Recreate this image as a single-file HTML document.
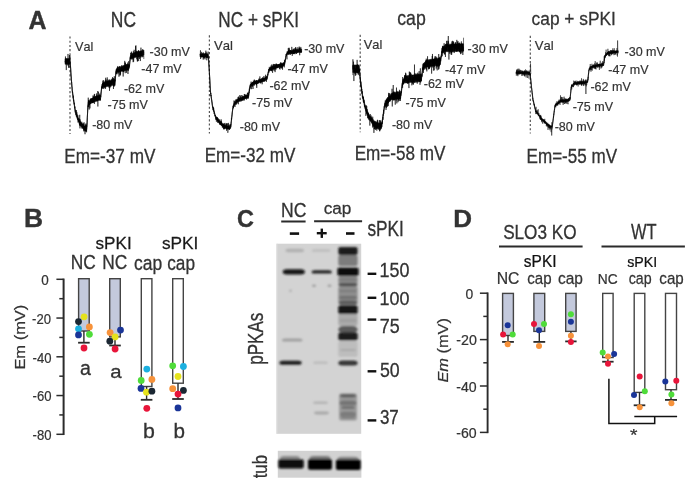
<!DOCTYPE html>
<html><head><meta charset="utf-8"><style>
html,body{margin:0;padding:0;background:#fff;}
body{width:700px;height:489px;overflow:hidden;}
svg{display:block;font-family:"Liberation Sans",sans-serif;font-kerning:none;will-change:transform;}
</style></head><body>
<svg width="700" height="489" viewBox="0 0 700 489">
<defs>
<filter id="bl" x="-5%" y="-5%" width="110%" height="110%"><feGaussianBlur stdDeviation="0.4"/></filter>
<filter id="bb" x="-20%" y="-20%" width="140%" height="140%"><feGaussianBlur stdDeviation="1.3"/></filter>
</defs>
<rect width="700" height="489" fill="#fff"/>
<text font-size="200" fill="#333" stroke="#333" stroke-width="3.0" transform="matrix(0.1246 0 0 0.1312 28.477 29.200)"><tspan font-weight="bold">A</tspan></text>
<text font-size="200" fill="#333" stroke="#333" stroke-width="3.0" transform="matrix(0.0871 0 0 0.1063 110.806 26.787)"><tspan>NC</tspan></text>
<text font-size="200" fill="#333" stroke="#333" stroke-width="3.0" transform="matrix(0.0859 0 0 0.1092 218.326 27.382)"><tspan>NC + sPKI</tspan></text>
<text font-size="200" fill="#333" stroke="#333" stroke-width="3.0" transform="matrix(0.0885 0 0 0.1033 397.203 25.260)"><tspan>cap</tspan></text>
<text font-size="200" fill="#333" stroke="#333" stroke-width="3.0" transform="matrix(0.0867 0 0 0.0917 531.620 24.750)"><tspan>cap + sPKI</tspan></text>
<text font-size="200" fill="#333" stroke="#333" stroke-width="3.0" transform="matrix(0.0859 0 0 0.1014 64.325 163.097)"><tspan>Em=-37 mV</tspan></text>
<text font-size="200" fill="#333" stroke="#333" stroke-width="3.0" transform="matrix(0.0856 0 0 0.0986 204.630 161.903)"><tspan>Em=-32 mV</tspan></text>
<text font-size="200" fill="#333" stroke="#333" stroke-width="3.0" transform="matrix(0.0856 0 0 0.1007 354.630 160.499)"><tspan>Em=-58 mV</tspan></text>
<text font-size="200" fill="#333" stroke="#333" stroke-width="3.0" transform="matrix(0.0854 0 0 0.1043 526.533 162.691)"><tspan>Em=-55 mV</tspan></text>
<text font-size="200" fill="#333" stroke="#333" stroke-width="3.0" transform="matrix(0.0635 0 0 0.0646 75.037 51.371)"><tspan>Val</tspan></text>
<text font-size="200" fill="#333" stroke="#333" stroke-width="3.0" transform="matrix(0.0654 0 0 0.0633 213.935 50.173)"><tspan>Val</tspan></text>
<text font-size="200" fill="#333" stroke="#333" stroke-width="3.0" transform="matrix(0.0642 0 0 0.0612 363.736 48.878)"><tspan>Val</tspan></text>
<text font-size="200" fill="#333" stroke="#333" stroke-width="3.0" transform="matrix(0.0654 0 0 0.0633 534.735 50.173)"><tspan>Val</tspan></text>
<line x1="70.0" y1="36.5" x2="70.0" y2="134.0" stroke="#555" stroke-width="1.2" stroke-dasharray="2.1 2.1"/>
<line x1="209.4" y1="35.3" x2="209.4" y2="133.4" stroke="#555" stroke-width="1.2" stroke-dasharray="2.1 2.1"/>
<line x1="360.2" y1="34.8" x2="360.2" y2="132.3" stroke="#555" stroke-width="1.2" stroke-dasharray="2.1 2.1"/>
<line x1="530.3" y1="35.8" x2="530.3" y2="133.4" stroke="#555" stroke-width="1.2" stroke-dasharray="2.1 2.1"/>
<text font-size="200" fill="#333" stroke="#333" stroke-width="3.0" transform="matrix(0.0626 0 0 0.0627 149.536 55.775)"><tspan>-30 mV</tspan></text>
<text font-size="200" fill="#333" stroke="#333" stroke-width="3.0" transform="matrix(0.0626 0 0 0.0616 141.336 73.400)"><tspan>-47 mV</tspan></text>
<text font-size="200" fill="#333" stroke="#333" stroke-width="3.0" transform="matrix(0.0626 0 0 0.0641 123.936 92.872)"><tspan>-62 mV</tspan></text>
<text font-size="200" fill="#333" stroke="#333" stroke-width="3.0" transform="matrix(0.0626 0 0 0.0629 107.536 109.474)"><tspan>-75 mV</tspan></text>
<text font-size="200" fill="#333" stroke="#333" stroke-width="3.0" transform="matrix(0.0626 0 0 0.0641 92.136 128.872)"><tspan>-80 mV</tspan></text>
<text font-size="200" fill="#333" stroke="#333" stroke-width="3.0" transform="matrix(0.0626 0 0 0.0613 304.136 52.777)"><tspan>-30 mV</tspan></text>
<text font-size="200" fill="#333" stroke="#333" stroke-width="3.0" transform="matrix(0.0626 0 0 0.0638 287.436 73.400)"><tspan>-47 mV</tspan></text>
<text font-size="200" fill="#333" stroke="#333" stroke-width="3.0" transform="matrix(0.0626 0 0 0.0620 269.436 89.676)"><tspan>-62 mV</tspan></text>
<text font-size="200" fill="#333" stroke="#333" stroke-width="3.0" transform="matrix(0.0626 0 0 0.0629 252.036 106.674)"><tspan>-75 mV</tspan></text>
<text font-size="200" fill="#333" stroke="#333" stroke-width="3.0" transform="matrix(0.0626 0 0 0.0613 239.736 131.077)"><tspan>-80 mV</tspan></text>
<text font-size="200" fill="#333" stroke="#333" stroke-width="3.0" transform="matrix(0.0626 0 0 0.0620 467.536 52.676)"><tspan>-30 mV</tspan></text>
<text font-size="200" fill="#333" stroke="#333" stroke-width="3.0" transform="matrix(0.0626 0 0 0.0638 445.036 74.000)"><tspan>-47 mV</tspan></text>
<text font-size="200" fill="#333" stroke="#333" stroke-width="3.0" transform="matrix(0.0626 0 0 0.0613 423.736 87.977)"><tspan>-62 mV</tspan></text>
<text font-size="200" fill="#333" stroke="#333" stroke-width="3.0" transform="matrix(0.0626 0 0 0.0621 405.436 106.876)"><tspan>-75 mV</tspan></text>
<text font-size="200" fill="#333" stroke="#333" stroke-width="3.0" transform="matrix(0.0626 0 0 0.0613 391.936 129.377)"><tspan>-80 mV</tspan></text>
<text font-size="200" fill="#333" stroke="#333" stroke-width="3.0" transform="matrix(0.0626 0 0 0.0613 624.536 55.577)"><tspan>-30 mV</tspan></text>
<text font-size="200" fill="#333" stroke="#333" stroke-width="3.0" transform="matrix(0.0626 0 0 0.0638 608.236 74.000)"><tspan>-47 mV</tspan></text>
<text font-size="200" fill="#333" stroke="#333" stroke-width="3.0" transform="matrix(0.0626 0 0 0.0620 590.436 91.076)"><tspan>-62 mV</tspan></text>
<text font-size="200" fill="#333" stroke="#333" stroke-width="3.0" transform="matrix(0.0626 0 0 0.0621 572.636 110.976)"><tspan>-75 mV</tspan></text>
<text font-size="200" fill="#333" stroke="#333" stroke-width="3.0" transform="matrix(0.0626 0 0 0.0613 554.636 131.377)"><tspan>-80 mV</tspan></text>
<path d="M65.10,58.75 65.35,58.75 65.60,58.75 65.85,58.75 66.10,58.75 66.35,58.75 66.60,58.75 66.85,58.75 67.10,58.75 67.35,58.75 67.60,58.75 67.85,58.75 68.10,58.75 68.35,58.75 68.60,58.75 68.85,58.75 69.10,58.75 69.35,58.75 69.60,58.75 69.85,58.75 70.10,60.59 70.35,63.60 70.60,67.90 70.85,72.10 71.10,75.81 71.35,78.84 71.60,81.92 71.85,85.00 72.10,88.06 72.35,90.75 72.60,92.33 72.85,94.04 73.10,95.76 73.35,97.48 73.60,99.19 73.85,100.91 74.10,102.63 74.35,104.34 74.60,106.06 74.85,107.78 75.10,109.46 75.35,110.74 75.60,111.11 75.85,111.79 76.10,112.47 76.35,113.15 76.60,113.84 76.85,114.52 77.10,115.20 77.35,115.89 77.60,116.57 77.85,117.25 78.10,117.93 78.35,118.62 78.60,119.30 78.85,119.98 79.10,120.67 79.35,121.16 79.60,121.20 79.85,121.40 80.10,121.68 80.35,121.96 80.60,122.24 80.85,122.52 81.10,122.80 81.35,123.08 81.60,123.36 81.85,123.64 82.10,123.92 82.35,124.20 82.60,124.48 82.85,124.76 83.10,125.03 83.35,125.31 83.60,125.59 83.85,125.87 84.10,126.15 84.35,126.31 84.60,126.08 84.85,125.75 85.10,125.75 85.35,125.75 85.60,125.75 85.85,125.75 86.10,125.75 86.35,125.75 86.60,126.99 86.85,127.01 87.10,122.08 87.35,116.97 87.60,111.87 87.85,106.70 88.10,103.15 88.35,101.73 88.60,101.42 88.85,101.10 89.10,100.79 89.35,100.48 89.60,100.17 89.85,99.77 90.10,99.29 90.35,99.00 90.60,98.89 90.85,98.79 91.10,98.68 91.35,98.58 91.60,98.48 91.85,98.37 92.10,98.27 92.35,98.16 92.60,98.06 92.85,97.96 93.10,97.85 93.35,97.75 93.60,97.64 93.85,97.54 94.10,97.43 94.35,97.33 94.60,97.22 94.85,97.11 95.10,97.00 95.35,96.90 95.60,96.81 95.85,96.71 96.10,96.62 96.35,96.52 96.60,96.43 96.85,96.33 97.10,96.24 97.35,96.15 97.60,96.05 97.85,95.96 98.10,95.86 98.35,95.77 98.60,95.67 98.85,95.58 99.10,95.48 99.35,95.39 99.60,95.29 99.85,95.20 100.10,95.10 100.35,95.01 100.60,96.34 100.85,94.45 101.10,92.20 101.35,89.95 101.60,87.66 101.85,85.43 102.10,84.29 102.35,83.98 102.60,83.67 102.85,83.25 103.10,82.71 103.35,82.40 103.60,82.34 103.85,82.29 104.10,82.23 104.35,82.17 104.60,82.12 104.85,82.06 105.10,82.00 105.35,81.95 105.60,81.89 105.85,81.84 106.10,81.78 106.35,81.72 106.60,81.67 106.85,81.61 107.10,81.55 107.35,81.50 107.60,81.44 107.85,81.39 108.10,81.33 108.35,81.27 108.60,81.22 108.85,81.16 109.10,81.10 109.35,81.05 109.60,80.99 109.85,80.94 110.10,80.88 110.35,80.82 110.60,80.77 110.85,80.71 111.10,80.65 111.35,80.60 111.60,80.54 111.85,80.49 112.10,80.43 112.35,80.37 112.60,80.32 112.85,80.26 113.10,80.20 113.35,80.15 113.60,80.09 113.85,80.04 114.10,79.98 114.35,79.92 114.60,79.87 114.85,80.91 115.10,80.54 115.35,78.00 115.60,75.30 115.85,72.52 116.10,70.34 116.35,69.23 116.60,68.92 116.85,68.60 117.10,68.13 117.35,67.64 117.60,67.41 117.85,67.34 118.10,67.28 118.35,67.21 118.60,67.14 118.85,67.08 119.10,67.01 119.35,66.94 119.60,66.88 119.85,66.81 120.10,66.75 120.35,66.68 120.60,66.61 120.85,66.55 121.10,66.48 121.35,66.42 121.60,66.35 121.85,66.28 122.10,66.22 122.35,66.15 122.60,66.08 122.85,66.02 123.10,65.95 123.35,65.89 123.60,65.82 123.85,65.75 124.10,65.69 124.35,65.62 124.60,65.56 124.85,65.49 125.10,65.42 125.35,65.36 125.60,65.29 125.85,65.23 126.10,65.16 126.35,65.09 126.60,65.03 126.85,64.96 127.10,64.89 127.35,64.83 127.60,64.76 127.85,64.70 128.10,64.63 128.35,64.56 128.60,64.50 128.85,64.43 129.10,64.98 129.35,65.50 129.60,63.43 129.85,61.10 130.10,58.73 130.35,56.45 130.60,55.29 130.85,54.98 131.10,54.67 131.35,54.25 131.60,53.73 131.85,53.43 132.10,53.36 132.35,53.29 132.60,53.22 132.85,53.15 133.10,53.08 133.35,53.01 133.60,52.94 133.85,52.87 134.10,52.80 134.35,52.72 134.60,52.65 134.85,52.58 135.10,52.51 135.35,52.44 135.60,52.37 135.85,52.30 136.10,52.23 136.35,52.16 136.60,52.09 136.85,52.02 137.10,51.95 137.35,51.88 137.60,51.81 137.85,51.74 138.10,51.67 138.35,51.60 138.60,51.52 138.85,51.45 139.10,51.38 139.35,51.31 139.60,51.24 139.85,51.17 140.10,51.10 140.35,51.03 140.60,50.96 140.85,50.89 141.10,50.82 141.35,50.75 141.60,50.68 141.85,50.61 142.10,50.54 142.35,50.47 142.60,50.40 142.85,50.33 143.10,50.25 143.35,50.18 143.60,50.11 143.85,50.04 143.85,54.99 143.60,55.06 143.35,55.13 143.10,55.20 142.85,55.27 142.60,55.34 142.35,55.41 142.10,55.48 141.85,55.55 141.60,55.62 141.35,55.69 141.10,55.76 140.85,55.83 140.60,55.90 140.35,55.97 140.10,56.04 139.85,56.11 139.60,56.18 139.35,56.26 139.10,56.33 138.85,56.40 138.60,56.47 138.35,56.54 138.10,56.61 137.85,56.68 137.60,56.75 137.35,56.82 137.10,56.89 136.85,56.96 136.60,57.03 136.35,57.10 136.10,57.17 135.85,57.24 135.60,57.31 135.35,57.38 135.10,57.45 134.85,57.53 134.60,57.60 134.35,57.67 134.10,57.74 133.85,57.81 133.60,57.88 133.35,57.95 133.10,58.02 132.85,58.09 132.60,58.16 132.35,58.23 132.10,58.30 131.85,58.37 131.60,58.21 131.35,58.12 131.10,58.33 130.85,58.65 130.60,58.96 130.35,58.42 130.10,59.99 129.85,62.27 129.60,64.59 129.35,67.17 129.10,68.73 128.85,69.41 128.60,69.47 128.35,69.54 128.10,69.60 127.85,69.67 127.60,69.74 127.35,69.80 127.10,69.87 126.85,69.93 126.60,70.00 126.35,70.07 126.10,70.13 125.85,70.20 125.60,70.27 125.35,70.33 125.10,70.40 124.85,70.46 124.60,70.53 124.35,70.60 124.10,70.66 123.85,70.73 123.60,70.79 123.35,70.86 123.10,70.93 122.85,70.99 122.60,71.06 122.35,71.12 122.10,71.19 121.85,71.26 121.60,71.32 121.35,71.39 121.10,71.46 120.85,71.52 120.60,71.59 120.35,71.65 120.10,71.72 119.85,71.79 119.60,71.85 119.35,71.92 119.10,71.98 118.85,72.05 118.60,72.12 118.35,72.18 118.10,72.25 117.85,72.32 117.60,72.38 117.35,72.28 117.10,72.12 116.85,72.27 116.60,72.58 116.35,72.90 116.10,72.41 115.85,73.72 115.60,76.34 115.35,79.04 115.10,81.90 114.85,83.75 114.60,84.91 114.35,84.97 114.10,85.03 113.85,85.08 113.60,85.14 113.35,85.19 113.10,85.25 112.85,85.31 112.60,85.36 112.35,85.42 112.10,85.48 111.85,85.53 111.60,85.59 111.35,85.64 111.10,85.70 110.85,85.76 110.60,85.81 110.35,85.87 110.10,85.93 109.85,85.98 109.60,86.04 109.35,86.09 109.10,86.15 108.85,86.21 108.60,86.26 108.35,86.32 108.10,86.38 107.85,86.43 107.60,86.49 107.35,86.54 107.10,86.60 106.85,86.66 106.60,86.71 106.35,86.77 106.10,86.83 105.85,86.88 105.60,86.94 105.35,86.99 105.10,87.05 104.85,87.11 104.60,87.16 104.35,87.22 104.10,87.28 103.85,87.33 103.60,87.39 103.35,87.44 103.10,87.24 102.85,87.13 102.60,87.33 102.35,87.65 102.10,87.96 101.85,87.44 101.60,88.94 101.35,91.15 101.10,93.40 100.85,95.65 100.60,98.26 100.35,99.78 100.10,99.88 99.85,99.97 99.60,100.07 99.35,100.16 99.10,100.26 98.85,100.35 98.60,100.45 98.35,100.54 98.10,100.64 97.85,100.73 97.60,100.83 97.35,100.92 97.10,101.02 96.85,101.11 96.60,101.20 96.35,101.30 96.10,101.39 95.85,101.49 95.60,101.58 95.35,101.68 95.10,101.77 94.85,101.86 94.60,101.94 94.35,102.04 94.10,102.15 93.85,102.25 93.60,102.36 93.35,102.46 93.10,102.57 92.85,102.67 92.60,102.77 92.35,102.88 92.10,102.98 91.85,103.09 91.60,103.19 91.35,103.29 91.10,103.40 90.85,103.50 90.60,103.61 90.35,103.71 90.10,103.63 89.85,103.61 89.60,103.83 89.35,104.15 89.10,104.46 88.85,104.77 88.60,105.08 88.35,105.40 88.10,104.60 87.85,107.42 87.60,112.47 87.35,117.57 87.10,122.68 86.85,127.95 86.60,130.01 86.35,131.25 86.10,131.25 85.85,131.25 85.60,131.25 85.35,131.25 85.10,131.25 84.85,131.25 84.60,130.92 84.35,130.36 84.10,129.95 83.85,129.67 83.60,129.39 83.35,129.12 83.10,128.84 82.85,128.56 82.60,128.28 82.35,128.00 82.10,127.72 81.85,127.44 81.60,127.16 81.35,126.88 81.10,126.60 80.85,126.32 80.60,126.04 80.35,125.76 80.10,125.48 79.85,125.20 79.60,124.84 79.35,124.16 79.10,123.29 78.85,122.61 78.60,121.93 78.35,121.25 78.10,120.56 77.85,119.88 77.60,119.20 77.35,118.51 77.10,117.83 76.85,117.15 76.60,116.47 76.35,115.78 76.10,115.10 75.85,114.42 75.60,113.73 75.35,112.74 75.10,110.99 74.85,109.24 74.60,107.53 74.35,105.81 74.10,104.09 73.85,102.38 73.60,100.66 73.35,98.94 73.10,97.23 72.85,95.51 72.60,93.79 72.35,91.94 72.10,89.02 71.85,85.93 71.60,82.85 71.35,79.77 71.10,76.66 70.85,72.84 70.60,68.60 70.35,64.46 70.10,62.41 69.85,64.25 69.60,64.25 69.35,64.25 69.10,64.25 68.85,64.25 68.60,64.25 68.35,64.25 68.10,64.25 67.85,64.25 67.60,64.25 67.35,64.25 67.10,64.25 66.85,64.25 66.60,64.25 66.35,64.25 66.10,64.25 65.85,64.25 65.60,64.25 65.35,64.25 65.10,64.25 Z" fill="#111" stroke="#111" stroke-width="0.6"/><path d="M65.10,60.94 65.22,62.39 65.34,61.36 65.46,56.48 65.58,63.39 65.70,61.99 65.82,58.52 65.94,62.00 66.06,61.36 66.18,60.55 66.30,70.07 66.42,62.15 66.54,58.68 66.66,60.57 66.78,59.58 66.90,63.48 67.02,61.55 67.14,60.25 67.26,58.49 67.38,60.14 67.50,61.01 67.62,61.02 67.74,65.42 67.86,64.54 67.98,53.94 68.10,55.56 68.22,60.38 68.34,60.01 68.46,61.82 68.58,62.28 68.70,67.75 68.82,58.42 68.94,60.32 69.06,67.52 69.18,62.56 69.30,62.42 69.42,58.41 69.54,55.06 69.66,59.77 69.78,58.91 69.90,55.43 70.02,57.39 70.14,59.94 70.26,60.71 70.38,63.53 70.50,65.85 70.62,67.72 70.74,69.47 70.86,72.55 70.98,74.96 71.10,76.01 71.22,76.42 71.34,79.38 71.46,79.94 71.58,82.93 71.70,82.57 71.82,86.06 71.94,86.80 72.06,87.10 72.18,89.76 72.30,91.45 72.42,92.69 72.54,91.51 72.66,91.87 72.78,94.60 72.90,94.66 73.02,96.59 73.14,98.28 73.26,95.73 73.38,99.16 73.50,101.15 73.62,99.79 73.74,99.73 73.86,102.66 73.98,102.73 74.10,104.35 74.22,103.52 74.34,102.75 74.46,105.54 74.58,105.67 74.70,108.20 74.82,108.13 74.94,106.54 75.06,107.96 75.18,111.61 75.30,112.36 75.42,109.87 75.54,111.55 75.66,113.18 75.78,113.51 75.90,114.86 76.02,113.88 76.14,113.62 76.26,113.45 76.38,116.69 76.50,110.08 76.62,114.57 76.74,114.99 76.86,112.31 76.98,116.34 77.10,114.56 77.22,118.33 77.34,116.59 77.46,118.63 77.58,119.87 77.70,118.28 77.82,116.23 77.94,115.36 78.06,122.54 78.18,118.76 78.30,117.85 78.42,119.69 78.54,119.34 78.66,121.43 78.78,120.17 78.90,120.24 79.02,118.89 79.14,121.87 79.26,118.78 79.38,122.91 79.50,125.45 79.62,117.55 79.74,114.80 79.86,123.09 79.98,128.39 80.10,119.88 80.22,119.50 80.34,124.30 80.46,121.28 80.58,122.59 80.70,123.92 80.82,126.19 80.94,123.42 81.06,124.98 81.18,124.07 81.30,122.63 81.42,124.14 81.54,122.97 81.66,124.79 81.78,121.73 81.90,121.80 82.02,128.70 82.14,125.08 82.26,125.00 82.38,126.39 82.50,124.16 82.62,124.66 82.74,126.68 82.86,126.71 82.98,123.00 83.10,128.20 83.22,124.83 83.34,123.62 83.46,124.66 83.58,126.31 83.70,131.32 83.82,124.28 83.94,127.89 84.06,122.30 84.18,127.65 84.30,129.92 84.42,127.36 84.54,126.18 84.66,128.93 84.78,130.32 84.90,130.22 85.02,134.24 85.14,128.86 85.26,126.57 85.38,128.20 85.50,128.77 85.62,128.96 85.74,124.41 85.86,128.99 85.98,123.48 86.10,130.76 86.22,126.32 86.34,124.91 86.46,130.12 86.58,132.28 86.70,129.63 86.82,128.33 86.94,125.19 87.06,125.23 87.18,121.36 87.30,117.38 87.42,115.24 87.54,113.40 87.66,109.93 87.78,108.74 87.90,105.82 88.02,105.75 88.14,106.66 88.26,97.66 88.38,104.51 88.50,100.04 88.62,107.15 88.74,104.43 88.86,105.44 88.98,101.40 89.10,109.01 89.22,109.53 89.34,101.45 89.46,104.98 89.58,101.99 89.70,103.84 89.82,100.82 89.94,108.37 90.06,102.02 90.18,101.73 90.30,104.06 90.42,99.95 90.54,101.11 90.66,100.05 90.78,101.17 90.90,98.36 91.02,99.95 91.14,100.65 91.26,99.97 91.38,100.98 91.50,99.56 91.62,102.53 91.74,100.04 91.86,100.92 91.98,99.45 92.10,100.23 92.22,98.19 92.34,102.95 92.46,98.35 92.58,98.14 92.70,102.42 92.82,102.83 92.94,100.59 93.06,95.46 93.18,102.45 93.30,101.76 93.42,96.37 93.54,102.29 93.66,97.73 93.78,96.85 93.90,99.97 94.02,98.67 94.14,99.79 94.26,94.39 94.38,104.03 94.50,96.93 94.62,93.90 94.74,100.30 94.86,97.92 94.98,99.36 95.10,97.65 95.22,98.83 95.34,99.19 95.46,96.54 95.58,100.02 95.70,96.75 95.82,96.01 95.94,98.57 96.06,100.15 96.18,97.93 96.30,95.80 96.42,100.66 96.54,93.46 96.66,95.85 96.78,99.14 96.90,95.01 97.02,98.65 97.14,98.69 97.26,101.25 97.38,96.21 97.50,96.53 97.62,98.82 97.74,91.02 97.86,106.51 97.98,96.20 98.10,95.75 98.22,99.96 98.34,97.39 98.46,91.81 98.58,98.53 98.70,99.47 98.82,95.92 98.94,96.49 99.06,98.92 99.18,95.32 99.30,99.25 99.42,98.39 99.54,95.68 99.66,93.61 99.78,96.58 99.90,95.26 100.02,100.51 100.14,98.06 100.26,100.56 100.38,98.45 100.50,98.64 100.62,96.16 100.74,96.90 100.86,97.13 100.98,93.39 101.10,92.06 101.22,91.59 101.34,90.20 101.46,88.74 101.58,88.69 101.70,86.97 101.82,88.60 101.94,85.94 102.06,85.97 102.18,87.38 102.30,84.11 102.42,88.57 102.54,83.57 102.66,82.93 102.78,84.45 102.90,84.51 103.02,80.94 103.14,84.35 103.26,80.01 103.38,88.95 103.50,85.01 103.62,83.85 103.74,82.84 103.86,84.43 103.98,84.87 104.10,82.77 104.22,83.11 104.34,85.18 104.46,84.03 104.58,87.66 104.70,88.40 104.82,85.23 104.94,86.20 105.06,80.72 105.18,86.24 105.30,84.10 105.42,85.38 105.54,88.83 105.66,77.77 105.78,85.51 105.90,80.44 106.02,84.83 106.14,79.55 106.26,81.69 106.38,83.66 106.50,85.07 106.62,83.35 106.74,81.54 106.86,81.89 106.98,85.67 107.10,82.69 107.22,77.38 107.34,84.46 107.46,83.13 107.58,84.31 107.70,81.14 107.82,85.32 107.94,79.41 108.06,84.37 108.18,81.45 108.30,84.57 108.42,85.56 108.54,80.35 108.66,82.85 108.78,83.68 108.90,87.50 109.02,86.34 109.14,80.56 109.26,85.92 109.38,86.59 109.50,90.90 109.62,79.46 109.74,83.09 109.86,88.17 109.98,80.15 110.10,80.53 110.22,84.11 110.34,86.39 110.46,81.25 110.58,83.90 110.70,82.50 110.82,86.78 110.94,82.67 111.06,84.77 111.18,79.55 111.30,81.29 111.42,81.06 111.54,84.05 111.66,82.53 111.78,78.80 111.90,83.21 112.02,83.03 112.14,80.88 112.26,80.66 112.38,81.54 112.50,77.22 112.62,82.17 112.74,82.36 112.86,79.07 112.98,83.52 113.10,77.89 113.22,80.96 113.34,81.50 113.46,89.00 113.58,78.42 113.70,84.35 113.82,86.17 113.94,84.64 114.06,86.70 114.18,79.99 114.30,76.19 114.42,85.47 114.54,79.36 114.66,82.10 114.78,79.92 114.90,85.61 115.02,83.45 115.14,79.95 115.26,80.27 115.38,78.16 115.50,76.75 115.62,75.51 115.74,74.09 115.86,73.60 115.98,72.18 116.10,70.76 116.22,73.73 116.34,69.56 116.46,71.71 116.58,71.67 116.70,73.77 116.82,68.70 116.94,74.34 117.06,70.34 117.18,69.43 117.30,67.54 117.42,71.15 117.54,69.17 117.66,66.21 117.78,66.14 117.90,67.90 118.02,67.37 118.14,72.90 118.26,73.52 118.38,71.90 118.50,70.87 118.62,69.11 118.74,70.70 118.86,73.05 118.98,76.73 119.10,73.28 119.22,69.72 119.34,70.70 119.46,69.03 119.58,66.09 119.70,69.62 119.82,70.97 119.94,75.50 120.06,70.61 120.18,74.36 120.30,75.26 120.42,70.11 120.54,74.30 120.66,71.91 120.78,68.24 120.90,70.23 121.02,69.44 121.14,68.59 121.26,68.81 121.38,69.57 121.50,70.69 121.62,66.85 121.74,69.51 121.86,65.02 121.98,69.74 122.10,71.01 122.22,69.41 122.34,69.48 122.46,70.35 122.58,66.86 122.70,68.15 122.82,70.44 122.94,71.84 123.06,69.95 123.18,76.50 123.30,68.52 123.42,71.55 123.54,72.05 123.66,67.64 123.78,65.65 123.90,64.97 124.02,68.44 124.14,71.49 124.26,68.70 124.38,68.15 124.50,65.97 124.62,68.51 124.74,60.87 124.86,67.26 124.98,66.37 125.10,62.55 125.22,73.17 125.34,62.71 125.46,64.26 125.58,64.44 125.70,70.49 125.82,64.74 125.94,69.40 126.06,69.01 126.18,68.10 126.30,64.23 126.42,66.66 126.54,72.82 126.66,64.58 126.78,65.67 126.90,67.76 127.02,70.64 127.14,68.69 127.26,69.99 127.38,63.90 127.50,69.71 127.62,68.73 127.74,62.59 127.86,71.92 127.98,73.99 128.10,64.85 128.22,66.79 128.34,70.85 128.46,62.52 128.58,61.24 128.70,63.28 128.82,64.93 128.94,65.01 129.06,67.80 129.18,67.28 129.30,64.67 129.42,66.39 129.54,66.56 129.66,64.64 129.78,63.22 129.90,60.90 130.02,61.02 130.14,57.57 130.26,58.56 130.38,56.60 130.50,58.91 130.62,56.83 130.74,52.97 130.86,56.29 130.98,59.01 131.10,52.58 131.22,53.85 131.34,53.44 131.46,51.64 131.58,58.16 131.70,59.52 131.82,57.85 131.94,56.47 132.06,55.80 132.18,56.87 132.30,54.31 132.42,58.96 132.54,59.34 132.66,58.94 132.78,54.79 132.90,57.33 133.02,57.05 133.14,62.20 133.26,57.20 133.38,51.22 133.50,57.26 133.62,61.71 133.74,58.18 133.86,58.36 133.98,55.95 134.10,49.82 134.22,50.11 134.34,51.97 134.46,55.10 134.58,56.19 134.70,56.67 134.82,53.36 134.94,57.28 135.06,53.58 135.18,52.20 135.30,56.70 135.42,51.57 135.54,46.05 135.66,51.16 135.78,54.34 135.90,45.36 136.02,53.46 136.14,53.82 136.26,50.76 136.38,51.02 136.50,54.28 136.62,54.13 136.74,59.28 136.86,56.55 136.98,51.09 137.10,53.56 137.22,57.96 137.34,61.46 137.46,57.17 137.58,56.50 137.70,61.24 137.82,55.76 137.94,54.42 138.06,51.06 138.18,53.16 138.30,61.06 138.42,50.17 138.54,54.31 138.66,50.68 138.78,55.47 138.90,57.43 139.02,54.45 139.14,57.00 139.26,56.45 139.38,55.90 139.50,58.91 139.62,55.64 139.74,52.71 139.86,51.77 139.98,51.46 140.10,54.53 140.22,52.61 140.34,61.06 140.46,58.60 140.58,52.69 140.70,52.57 140.82,57.48 140.94,47.63 141.06,52.34 141.18,56.48 141.30,51.62 141.42,53.38 141.54,53.42 141.66,56.25 141.78,54.64 141.90,55.53 142.02,55.93 142.14,54.89 142.26,57.28 142.38,51.79 142.50,49.43 142.62,49.10 142.74,49.66 142.86,52.64 142.98,57.02 143.10,54.36 143.22,52.11 143.34,50.80 143.46,52.18 143.58,52.42 143.70,51.87 143.82,59.02" fill="none" stroke="#000" stroke-width="0.55" stroke-linejoin="round"/>
<path d="M200.10,53.80 200.35,53.80 200.60,53.80 200.85,53.80 201.10,53.80 201.35,53.80 201.60,53.80 201.85,53.80 202.10,53.80 202.35,53.80 202.60,53.80 202.85,53.80 203.10,53.80 203.35,53.80 203.60,53.80 203.85,53.80 204.10,53.80 204.35,53.80 204.60,53.80 204.85,53.80 205.10,53.80 205.35,53.80 205.60,53.80 205.85,53.80 206.10,53.80 206.35,53.80 206.60,53.80 206.85,53.80 207.10,53.80 207.35,53.80 207.60,53.80 207.85,53.80 208.10,54.41 208.35,55.82 208.60,59.77 208.85,63.59 209.10,67.42 209.35,71.43 209.60,76.10 209.85,80.76 210.10,85.42 210.35,90.03 210.60,92.26 210.85,94.00 211.10,95.79 211.35,97.58 211.60,99.37 211.85,101.15 212.10,102.94 212.35,104.66 212.60,105.61 212.85,106.49 213.10,107.40 213.35,108.31 213.60,109.22 213.85,110.13 214.10,111.05 214.35,111.96 214.60,112.87 214.85,113.78 215.10,114.69 215.35,115.55 215.60,116.09 215.85,116.33 216.10,116.71 216.35,117.09 216.60,117.47 216.85,117.84 217.10,118.22 217.35,118.60 217.60,118.98 217.85,119.36 218.10,119.73 218.35,120.11 218.60,120.49 218.85,120.87 219.10,121.25 219.35,121.62 219.60,121.88 219.85,121.90 220.10,122.06 220.35,122.22 220.60,122.39 220.85,122.55 221.10,122.72 221.35,122.88 221.60,123.04 221.85,123.21 222.10,123.37 222.35,123.54 222.60,123.70 222.85,123.86 223.10,124.03 223.35,124.19 223.60,124.36 223.85,124.52 224.10,124.68 224.35,124.85 224.60,125.01 224.85,125.18 225.10,125.34 225.35,125.50 225.60,125.62 225.85,125.62 226.10,125.64 226.35,125.70 226.60,125.76 226.85,125.82 227.10,125.88 227.35,125.94 227.60,126.01 227.85,126.07 228.10,126.13 228.35,126.19 228.60,126.25 228.85,126.31 229.10,126.37 229.35,126.43 229.60,126.36 229.85,126.79 230.10,126.51 230.35,126.01 230.60,125.63 230.85,125.09 231.10,123.02 231.35,120.83 231.60,118.64 231.85,116.44 232.10,114.25 232.35,112.06 232.60,109.87 232.85,107.57 233.10,106.43 233.35,105.81 233.60,105.31 233.85,104.81 234.10,104.31 234.35,103.81 234.60,103.31 234.85,102.81 235.10,102.31 235.35,101.81 235.60,101.31 235.85,100.75 236.10,100.18 236.35,99.89 236.60,99.77 236.85,99.66 237.10,99.55 237.35,99.44 237.60,99.32 237.85,99.21 238.10,99.10 238.35,98.98 238.60,98.87 238.85,98.76 239.10,98.65 239.35,98.53 239.60,98.42 239.85,98.31 240.10,98.20 240.35,98.08 240.60,97.97 240.85,97.86 241.10,97.74 241.35,97.63 241.60,97.52 241.85,97.41 242.10,97.29 242.35,97.18 242.60,97.07 242.85,96.96 243.10,96.84 243.35,96.73 243.60,96.62 243.85,96.50 244.10,96.39 244.35,96.28 244.60,96.17 244.85,96.05 245.10,95.94 245.35,95.83 245.60,95.72 245.85,95.60 246.10,95.47 246.35,95.35 246.60,95.25 246.85,95.17 247.10,95.09 247.35,95.00 247.60,94.92 247.85,94.84 248.10,94.75 248.35,94.67 248.60,95.34 248.85,93.87 249.10,92.18 249.35,90.48 249.60,88.78 249.85,87.03 250.10,85.64 250.35,85.00 250.60,84.68 250.85,84.37 251.10,84.06 251.35,83.75 251.60,83.43 251.85,83.07 252.10,82.69 252.35,82.48 252.60,82.39 252.85,82.29 253.10,82.20 253.35,82.11 253.60,82.02 253.85,81.93 254.10,81.84 254.35,81.75 254.60,81.66 254.85,81.57 255.10,81.48 255.35,81.39 255.60,81.30 255.85,81.21 256.10,81.12 256.35,81.03 256.60,80.94 256.85,80.85 257.10,80.76 257.35,80.67 257.60,80.58 257.85,80.49 258.10,80.40 258.35,80.30 258.60,80.21 258.85,80.12 259.10,80.03 259.35,79.94 259.60,79.85 259.85,79.76 260.10,79.67 260.35,79.58 260.60,79.49 260.85,79.40 261.10,79.31 261.35,79.22 261.60,79.13 261.85,79.04 262.10,78.95 262.35,78.86 262.60,78.77 262.85,78.68 263.10,78.59 263.35,78.50 263.60,78.40 263.85,78.31 264.10,78.22 264.35,78.13 264.60,78.04 264.85,77.95 265.10,77.86 265.35,77.77 265.60,77.68 265.85,77.59 266.10,77.50 266.35,77.41 266.60,77.32 266.85,77.23 267.10,77.64 267.35,77.08 267.60,75.73 267.85,74.30 268.10,72.87 268.35,71.44 268.60,69.81 268.85,69.09 269.10,68.88 269.35,68.67 269.60,68.47 269.85,68.26 270.10,68.05 270.35,67.84 270.60,67.63 270.85,67.39 271.10,67.13 271.35,66.97 271.60,66.89 271.85,66.81 272.10,66.72 272.35,66.64 272.60,66.56 272.85,66.47 273.10,66.39 273.35,66.31 273.60,66.23 273.85,66.14 274.10,66.06 274.35,65.98 274.60,65.90 274.85,65.81 275.10,65.73 275.35,65.65 275.60,65.56 275.85,65.48 276.10,65.40 276.35,65.32 276.60,65.23 276.85,65.15 277.10,65.07 277.35,64.99 277.60,64.90 277.85,64.82 278.10,64.74 278.35,64.66 278.60,64.57 278.85,64.49 279.10,64.41 279.35,64.32 279.60,64.24 279.85,64.16 280.10,64.08 280.35,63.99 280.60,63.91 280.85,63.83 281.10,63.75 281.35,63.66 281.60,63.58 281.85,63.50 282.10,63.41 282.35,63.33 282.60,63.25 282.85,63.17 283.10,63.08 283.35,63.00 283.60,62.92 283.85,62.84 284.10,62.75 284.35,62.67 284.60,63.30 284.85,62.02 285.10,60.50 285.35,58.98 285.60,57.46 285.85,55.89 286.10,54.61 286.35,53.97 286.60,53.60 286.85,53.22 287.10,52.85 287.35,52.47 287.60,52.10 287.85,51.65 288.10,51.18 288.35,50.94 288.60,50.90 288.85,50.86 289.10,50.83 289.35,50.79 289.60,50.75 289.85,50.72 290.10,50.68 290.35,50.64 290.60,50.61 290.85,50.57 291.10,50.53 291.35,50.50 291.60,50.46 291.85,50.42 292.10,50.39 292.35,50.35 292.60,50.31 292.85,50.28 293.10,50.24 293.35,50.20 293.60,50.17 293.85,50.13 294.10,50.09 294.35,50.06 294.60,50.02 294.85,49.98 295.10,49.94 295.35,49.91 295.60,49.87 295.85,49.83 296.10,49.80 296.35,49.76 296.60,49.72 296.85,49.69 297.10,49.65 297.35,49.61 297.60,49.58 297.85,49.54 298.10,49.50 298.35,49.47 298.60,49.43 298.85,49.39 299.10,49.36 299.35,49.32 299.60,49.28 299.85,49.25 300.10,49.21 300.35,49.17 300.60,49.14 300.85,49.10 301.10,49.06 301.35,49.03 301.60,48.99 301.60,52.01 301.35,52.05 301.10,52.08 300.85,52.12 300.60,52.16 300.35,52.19 300.10,52.23 299.85,52.27 299.60,52.31 299.35,52.34 299.10,52.38 298.85,52.42 298.60,52.45 298.35,52.49 298.10,52.53 297.85,52.56 297.60,52.60 297.35,52.64 297.10,52.67 296.85,52.71 296.60,52.75 296.35,52.78 296.10,52.82 295.85,52.86 295.60,52.89 295.35,52.93 295.10,52.97 294.85,53.00 294.60,53.04 294.35,53.08 294.10,53.11 293.85,53.15 293.60,53.19 293.35,53.22 293.10,53.26 292.85,53.30 292.60,53.33 292.35,53.37 292.10,53.41 291.85,53.44 291.60,53.48 291.35,53.52 291.10,53.56 290.85,53.59 290.60,53.63 290.35,53.67 290.10,53.70 289.85,53.74 289.60,53.78 289.35,53.81 289.10,53.85 288.85,53.89 288.60,53.92 288.35,53.96 288.10,53.80 287.85,53.80 287.60,54.10 287.35,54.47 287.10,54.85 286.85,55.22 286.60,55.60 286.35,55.97 286.10,56.09 285.85,56.93 285.60,58.40 285.35,59.91 285.10,61.43 284.85,62.95 284.60,64.70 284.35,65.50 284.10,65.58 283.85,65.66 283.60,65.74 283.35,65.83 283.10,65.91 282.85,65.99 282.60,66.07 282.35,66.16 282.10,66.24 281.85,66.32 281.60,66.41 281.35,66.49 281.10,66.57 280.85,66.65 280.60,66.74 280.35,66.82 280.10,66.90 279.85,66.98 279.60,67.07 279.35,67.15 279.10,67.23 278.85,67.32 278.60,67.40 278.35,67.48 278.10,67.56 277.85,67.65 277.60,67.73 277.35,67.81 277.10,67.89 276.85,67.98 276.60,68.06 276.35,68.14 276.10,68.23 275.85,68.31 275.60,68.39 275.35,68.47 275.10,68.56 274.85,68.64 274.60,68.72 274.35,68.80 274.10,68.89 273.85,68.97 273.60,69.05 273.35,69.14 273.10,69.22 272.85,69.30 272.60,69.38 272.35,69.47 272.10,69.55 271.85,69.63 271.60,69.71 271.35,69.80 271.10,69.81 270.85,69.86 270.60,70.03 270.35,70.24 270.10,70.45 269.85,70.66 269.60,70.87 269.35,71.08 269.10,71.28 268.85,71.49 268.60,71.19 268.35,72.42 268.10,73.84 267.85,75.27 267.60,76.70 267.35,78.20 267.10,79.43 266.85,80.02 266.60,80.11 266.35,80.21 266.10,80.30 265.85,80.39 265.60,80.48 265.35,80.57 265.10,80.66 264.85,80.75 264.60,80.84 264.35,80.93 264.10,81.02 263.85,81.11 263.60,81.20 263.35,81.29 263.10,81.38 262.85,81.47 262.60,81.56 262.35,81.65 262.10,81.74 261.85,81.83 261.60,81.92 261.35,82.01 261.10,82.10 260.85,82.20 260.60,82.29 260.35,82.38 260.10,82.47 259.85,82.56 259.60,82.65 259.35,82.74 259.10,82.83 258.85,82.92 258.60,83.01 258.35,83.10 258.10,83.19 257.85,83.28 257.60,83.37 257.35,83.46 257.10,83.55 256.85,83.64 256.60,83.73 256.35,83.82 256.10,83.91 255.85,84.00 255.60,84.10 255.35,84.19 255.10,84.28 254.85,84.37 254.60,84.46 254.35,84.55 254.10,84.64 253.85,84.73 253.60,84.82 253.35,84.91 253.10,85.00 252.85,85.09 252.60,85.18 252.35,85.27 252.10,85.24 251.85,85.31 251.60,85.57 251.35,85.88 251.10,86.19 250.85,86.50 250.60,86.82 250.35,87.13 250.10,87.11 249.85,88.01 249.60,89.65 249.35,91.34 249.10,93.04 248.85,94.73 248.60,96.66 248.35,97.50 248.10,97.58 247.85,97.66 247.60,97.75 247.35,97.83 247.10,97.91 246.85,98.00 246.60,98.08 246.35,98.15 246.10,98.22 245.85,98.31 245.60,98.43 245.35,98.54 245.10,98.65 244.85,98.76 244.60,98.88 244.35,98.99 244.10,99.10 243.85,99.22 243.60,99.33 243.35,99.44 243.10,99.55 242.85,99.67 242.60,99.78 242.35,99.89 242.10,100.00 241.85,100.12 241.60,100.23 241.35,100.34 241.10,100.46 240.85,100.57 240.60,100.68 240.35,100.79 240.10,100.91 239.85,101.02 239.60,101.13 239.35,101.24 239.10,101.36 238.85,101.47 238.60,101.58 238.35,101.70 238.10,101.81 237.85,101.92 237.60,102.03 237.35,102.15 237.10,102.26 236.85,102.37 236.60,102.48 236.35,102.60 236.10,102.53 235.85,102.65 235.60,103.09 235.35,103.59 235.10,104.09 234.85,104.59 234.60,105.09 234.35,105.59 234.10,106.09 233.85,106.59 233.60,107.09 233.35,107.59 233.10,107.97 232.85,108.51 232.60,110.58 232.35,112.77 232.10,114.96 231.85,117.16 231.60,119.35 231.35,121.54 231.10,123.73 230.85,126.03 230.60,127.17 230.35,127.79 230.10,128.29 229.85,129.01 229.60,129.54 229.35,129.35 229.10,129.29 228.85,129.23 228.60,129.17 228.35,129.10 228.10,129.04 227.85,128.98 227.60,128.92 227.35,128.86 227.10,128.80 226.85,128.74 226.60,128.68 226.35,128.62 226.10,128.56 225.85,128.45 225.60,128.25 225.35,128.04 225.10,127.87 224.85,127.71 224.60,127.55 224.35,127.38 224.10,127.22 223.85,127.05 223.60,126.89 223.35,126.73 223.10,126.56 222.85,126.40 222.60,126.23 222.35,126.07 222.10,125.91 221.85,125.74 221.60,125.58 221.35,125.42 221.10,125.25 220.85,125.09 220.60,124.92 220.35,124.76 220.10,124.60 219.85,124.43 219.60,124.12 219.35,123.62 219.10,123.24 218.85,122.86 218.60,122.48 218.35,122.11 218.10,121.73 217.85,121.35 217.60,120.97 217.35,120.59 217.10,120.22 216.85,119.84 216.60,119.46 216.35,119.08 216.10,118.70 215.85,118.33 215.60,117.81 215.35,116.95 215.10,115.99 214.85,115.08 214.60,114.17 214.35,113.26 214.10,112.35 213.85,111.44 213.60,110.53 213.35,109.61 213.10,108.70 212.85,107.79 212.60,106.84 212.35,105.63 212.10,103.77 211.85,101.98 211.60,100.19 211.35,98.41 211.10,96.62 210.85,94.83 210.60,93.00 210.35,90.51 210.10,85.80 209.85,81.14 209.60,76.48 209.35,71.83 209.10,67.86 208.85,64.04 208.60,60.21 208.35,56.51 208.10,56.39 207.85,57.00 207.60,57.00 207.35,57.00 207.10,57.00 206.85,57.00 206.60,57.00 206.35,57.00 206.10,57.00 205.85,57.00 205.60,57.00 205.35,57.00 205.10,57.00 204.85,57.00 204.60,57.00 204.35,57.00 204.10,57.00 203.85,57.00 203.60,57.00 203.35,57.00 203.10,57.00 202.85,57.00 202.60,57.00 202.35,57.00 202.10,57.00 201.85,57.00 201.60,57.00 201.35,57.00 201.10,57.00 200.85,57.00 200.60,57.00 200.35,57.00 200.10,57.00 Z" fill="#111" stroke="#111" stroke-width="0.6"/><path d="M200.10,55.52 200.22,53.97 200.34,54.34 200.46,50.33 200.58,59.04 200.70,57.59 200.82,54.68 200.94,56.77 201.06,55.87 201.18,54.13 201.30,57.31 201.42,55.19 201.54,55.19 201.66,51.87 201.78,56.40 201.90,55.55 202.02,56.80 202.14,54.21 202.26,55.62 202.38,53.46 202.50,56.99 202.62,55.39 202.74,55.83 202.86,55.97 202.98,53.59 203.10,56.89 203.22,59.67 203.34,52.45 203.46,52.60 203.58,53.17 203.70,57.80 203.82,56.70 203.94,58.63 204.06,57.93 204.18,56.65 204.30,56.61 204.42,55.92 204.54,57.85 204.66,53.92 204.78,55.15 204.90,56.65 205.02,59.38 205.14,54.00 205.26,53.05 205.38,53.86 205.50,56.91 205.62,54.34 205.74,57.40 205.86,50.67 205.98,56.80 206.10,56.91 206.22,52.27 206.34,55.70 206.46,57.96 206.58,55.56 206.70,57.60 206.82,60.31 206.94,56.17 207.06,55.48 207.18,54.89 207.30,57.76 207.42,55.88 207.54,56.31 207.66,56.65 207.78,58.19 207.90,54.66 208.02,53.37 208.14,51.60 208.26,57.20 208.38,56.92 208.50,59.48 208.62,60.45 208.74,61.87 208.86,64.34 208.98,65.70 209.10,66.84 209.22,68.93 209.34,72.25 209.46,73.76 209.58,76.02 209.70,77.95 209.82,80.11 209.94,83.10 210.06,84.71 210.18,86.63 210.30,89.15 210.42,90.62 210.54,92.28 210.66,94.08 210.78,93.03 210.90,96.02 211.02,95.01 211.14,96.62 211.26,96.74 211.38,98.09 211.50,99.24 211.62,99.37 211.74,99.92 211.86,101.05 211.98,101.98 212.10,102.13 212.22,104.04 212.34,105.46 212.46,106.63 212.58,107.21 212.70,106.55 212.82,107.47 212.94,107.03 213.06,110.24 213.18,107.25 213.30,109.94 213.42,108.32 213.54,110.32 213.66,107.91 213.78,111.59 213.90,110.63 214.02,113.89 214.14,113.88 214.26,113.40 214.38,112.82 214.50,112.42 214.62,113.88 214.74,114.35 214.86,115.81 214.98,116.36 215.10,115.10 215.22,115.55 215.34,116.01 215.46,115.37 215.58,116.59 215.70,117.58 215.82,119.02 215.94,120.04 216.06,116.71 216.18,119.13 216.30,117.54 216.42,121.76 216.54,118.07 216.66,119.23 216.78,116.95 216.90,117.59 217.02,119.36 217.14,118.56 217.26,119.65 217.38,117.09 217.50,120.78 217.62,118.43 217.74,122.90 217.86,119.46 217.98,121.68 218.10,118.11 218.22,121.13 218.34,119.18 218.46,120.09 218.58,121.16 218.70,120.81 218.82,121.83 218.94,122.85 219.06,123.00 219.18,121.83 219.30,120.20 219.42,121.32 219.54,122.42 219.66,119.27 219.78,124.40 219.90,122.34 220.02,122.21 220.14,124.51 220.26,124.05 220.38,123.37 220.50,120.80 220.62,123.40 220.74,123.71 220.86,121.56 220.98,124.89 221.10,123.68 221.22,119.42 221.34,123.50 221.46,121.35 221.58,125.68 221.70,125.57 221.82,122.53 221.94,123.07 222.06,124.82 222.18,123.88 222.30,127.39 222.42,125.78 222.54,123.99 222.66,125.73 222.78,127.75 222.90,126.19 223.02,126.73 223.14,125.26 223.26,124.45 223.38,127.02 223.50,129.34 223.62,126.26 223.74,124.01 223.86,128.72 223.98,123.07 224.10,127.35 224.22,126.03 224.34,128.76 224.46,125.49 224.58,129.32 224.70,127.15 224.82,123.34 224.94,122.92 225.06,125.88 225.18,128.68 225.30,126.50 225.42,126.25 225.54,125.64 225.66,127.32 225.78,126.76 225.90,126.60 226.02,123.84 226.14,128.15 226.26,128.45 226.38,123.73 226.50,130.71 226.62,128.08 226.74,125.84 226.86,123.10 226.98,128.27 227.10,128.14 227.22,125.77 227.34,123.55 227.46,129.27 227.58,126.05 227.70,126.29 227.82,132.80 227.94,131.38 228.06,129.28 228.18,126.41 228.30,128.66 228.42,122.90 228.54,127.74 228.66,125.87 228.78,124.81 228.90,124.62 229.02,128.99 229.14,128.43 229.26,128.79 229.38,129.85 229.50,126.58 229.62,125.55 229.74,124.68 229.86,127.55 229.98,128.92 230.10,127.42 230.22,128.37 230.34,124.98 230.46,125.97 230.58,125.11 230.70,124.11 230.82,127.43 230.94,125.21 231.06,122.89 231.18,121.90 231.30,121.46 231.42,118.26 231.54,119.85 231.66,117.11 231.78,116.78 231.90,115.22 232.02,114.56 232.14,112.93 232.26,111.76 232.38,111.18 232.50,110.39 232.62,109.65 232.74,108.85 232.86,108.95 232.98,107.94 233.10,106.08 233.22,107.35 233.34,104.97 233.46,108.21 233.58,106.74 233.70,103.46 233.82,106.43 233.94,106.06 234.06,100.44 234.18,103.43 234.30,103.64 234.42,101.18 234.54,102.15 234.66,102.21 234.78,104.20 234.90,103.53 235.02,106.92 235.14,102.09 235.26,104.49 235.38,102.76 235.50,102.84 235.62,100.62 235.74,99.47 235.86,101.02 235.98,103.22 236.10,104.73 236.22,102.83 236.34,102.61 236.46,99.94 236.58,104.15 236.70,103.99 236.82,100.17 236.94,101.06 237.06,98.85 237.18,103.32 237.30,101.04 237.42,99.88 237.54,100.67 237.66,100.74 237.78,99.08 237.90,97.68 238.02,97.63 238.14,96.93 238.26,101.02 238.38,104.28 238.50,96.58 238.62,100.16 238.74,100.82 238.86,98.13 238.98,100.04 239.10,97.56 239.22,101.60 239.34,98.27 239.46,99.35 239.58,100.06 239.70,97.74 239.82,95.05 239.94,97.26 240.06,99.87 240.18,98.19 240.30,99.05 240.42,96.31 240.54,97.98 240.66,99.13 240.78,97.91 240.90,101.76 241.02,97.72 241.14,96.21 241.26,95.02 241.38,100.38 241.50,98.32 241.62,100.14 241.74,98.79 241.86,100.95 241.98,100.10 242.10,96.83 242.22,98.08 242.34,99.81 242.46,95.53 242.58,100.53 242.70,99.92 242.82,99.86 242.94,97.81 243.06,98.78 243.18,96.26 243.30,98.38 243.42,97.37 243.54,98.83 243.66,97.41 243.78,98.88 243.90,100.68 244.02,95.90 244.14,100.23 244.26,94.44 244.38,93.98 244.50,97.63 244.62,97.64 244.74,98.25 244.86,94.14 244.98,96.95 245.10,96.99 245.22,98.97 245.34,96.47 245.46,97.69 245.58,95.02 245.70,96.41 245.82,95.86 245.94,97.70 246.06,94.43 246.18,94.58 246.30,97.31 246.42,99.63 246.54,96.52 246.66,96.67 246.78,95.35 246.90,97.93 247.02,96.74 247.14,98.89 247.26,95.97 247.38,93.29 247.50,93.94 247.62,93.12 247.74,92.63 247.86,97.68 247.98,96.77 248.10,92.75 248.22,98.72 248.34,95.78 248.46,93.25 248.58,95.78 248.70,94.76 248.82,93.48 248.94,91.54 249.06,92.77 249.18,92.06 249.30,88.64 249.42,90.87 249.54,90.06 249.66,88.29 249.78,88.11 249.90,87.03 250.02,85.56 250.14,86.10 250.26,88.72 250.38,83.91 250.50,86.47 250.62,85.97 250.74,84.24 250.86,84.34 250.98,83.10 251.10,81.59 251.22,84.83 251.34,85.45 251.46,82.88 251.58,89.15 251.70,82.86 251.82,83.78 251.94,83.10 252.06,82.84 252.18,86.17 252.30,83.07 252.42,86.78 252.54,86.37 252.66,82.06 252.78,85.71 252.90,82.48 253.02,89.01 253.14,83.04 253.26,82.31 253.38,80.62 253.50,81.89 253.62,82.91 253.74,82.13 253.86,81.44 253.98,82.19 254.10,82.75 254.22,85.70 254.34,79.59 254.46,82.19 254.58,81.25 254.70,80.06 254.82,80.43 254.94,80.80 255.06,83.90 255.18,81.99 255.30,81.40 255.42,83.48 255.54,82.53 255.66,81.38 255.78,82.59 255.90,80.61 256.02,83.27 256.14,83.13 256.26,81.08 256.38,80.07 256.50,85.27 256.62,82.28 256.74,87.90 256.86,80.28 256.98,83.39 257.10,80.99 257.22,82.62 257.34,83.79 257.46,80.88 257.58,81.86 257.70,82.25 257.82,81.97 257.94,82.81 258.06,83.61 258.18,82.81 258.30,81.71 258.42,81.05 258.54,79.60 258.66,80.70 258.78,80.64 258.90,82.40 259.02,80.00 259.14,78.44 259.26,82.05 259.38,79.67 259.50,79.68 259.62,80.71 259.74,81.86 259.86,76.41 259.98,78.64 260.10,81.21 260.22,79.93 260.34,78.87 260.46,79.73 260.58,83.44 260.70,80.19 260.82,82.49 260.94,82.52 261.06,80.04 261.18,81.61 261.30,80.03 261.42,79.56 261.54,78.39 261.66,82.39 261.78,80.18 261.90,79.68 262.02,78.47 262.14,84.25 262.26,82.17 262.38,80.36 262.50,79.28 262.62,77.59 262.74,80.68 262.86,80.64 262.98,77.41 263.10,81.79 263.22,81.01 263.34,78.21 263.46,78.74 263.58,78.97 263.70,79.72 263.82,79.04 263.94,75.96 264.06,81.54 264.18,79.51 264.30,81.38 264.42,81.44 264.54,78.64 264.66,79.55 264.78,80.15 264.90,80.56 265.02,78.84 265.14,77.69 265.26,78.86 265.38,77.06 265.50,77.52 265.62,74.76 265.74,78.83 265.86,76.73 265.98,77.50 266.10,78.22 266.22,78.64 266.34,81.95 266.46,78.97 266.58,75.92 266.70,78.34 266.82,77.34 266.94,78.78 267.06,76.54 267.18,76.96 267.30,77.09 267.42,76.21 267.54,74.23 267.66,74.68 267.78,74.66 267.90,75.26 268.02,73.26 268.14,72.45 268.26,72.65 268.38,71.71 268.50,72.42 268.62,70.57 268.74,69.59 268.86,72.04 268.98,72.61 269.10,68.87 269.22,69.93 269.34,66.89 269.46,69.21 269.58,68.29 269.70,69.39 269.82,68.31 269.94,68.70 270.06,68.73 270.18,70.33 270.30,69.48 270.42,67.95 270.54,66.64 270.66,70.84 270.78,70.83 270.90,67.49 271.02,69.37 271.14,65.37 271.26,65.25 271.38,67.70 271.50,71.02 271.62,66.64 271.74,66.94 271.86,71.31 271.98,64.35 272.10,69.08 272.22,69.03 272.34,67.77 272.46,68.27 272.58,72.88 272.70,65.86 272.82,67.36 272.94,67.18 273.06,66.24 273.18,65.13 273.30,70.49 273.42,67.74 273.54,63.94 273.66,65.89 273.78,68.11 273.90,68.37 274.02,64.48 274.14,67.21 274.26,68.23 274.38,68.38 274.50,68.13 274.62,64.03 274.74,70.73 274.86,67.49 274.98,70.20 275.10,72.11 275.22,66.31 275.34,64.37 275.46,68.64 275.58,66.26 275.70,65.55 275.82,64.47 275.94,69.72 276.06,65.38 276.18,63.55 276.30,65.47 276.42,63.92 276.54,66.51 276.66,65.38 276.78,64.19 276.90,67.11 277.02,64.74 277.14,67.24 277.26,67.91 277.38,64.98 277.50,64.31 277.62,66.01 277.74,67.18 277.86,65.72 277.98,68.10 278.10,65.40 278.22,65.80 278.34,66.30 278.46,64.07 278.58,64.41 278.70,65.79 278.82,64.39 278.94,65.90 279.06,66.67 279.18,65.68 279.30,64.58 279.42,64.27 279.54,68.96 279.66,67.30 279.78,63.70 279.90,64.14 280.02,69.50 280.14,68.79 280.26,65.55 280.38,67.54 280.50,62.57 280.62,65.55 280.74,67.27 280.86,62.56 280.98,64.27 281.10,67.08 281.22,67.73 281.34,64.41 281.46,65.95 281.58,68.46 281.70,64.54 281.82,62.78 281.94,65.23 282.06,64.91 282.18,68.20 282.30,65.66 282.42,63.85 282.54,69.73 282.66,64.01 282.78,66.32 282.90,66.63 283.02,66.67 283.14,65.54 283.26,65.96 283.38,64.73 283.50,62.44 283.62,64.58 283.74,64.67 283.86,64.68 283.98,65.02 284.10,63.73 284.22,67.11 284.34,67.33 284.46,60.32 284.58,64.18 284.70,62.98 284.82,60.27 284.94,62.32 285.06,60.74 285.18,60.16 285.30,58.98 285.42,60.02 285.54,59.47 285.66,57.80 285.78,57.63 285.90,55.93 286.02,55.61 286.14,54.31 286.26,55.41 286.38,53.78 286.50,55.22 286.62,56.11 286.74,55.64 286.86,56.96 286.98,59.34 287.10,51.49 287.22,54.63 287.34,53.59 287.46,53.41 287.58,51.57 287.70,53.53 287.82,53.05 287.94,51.97 288.06,52.49 288.18,51.75 288.30,48.07 288.42,54.83 288.54,51.73 288.66,50.26 288.78,52.59 288.90,50.95 289.02,47.70 289.14,53.32 289.26,48.45 289.38,51.29 289.50,52.29 289.62,54.37 289.74,54.01 289.86,51.94 289.98,50.24 290.10,50.97 290.22,53.52 290.34,54.92 290.46,52.54 290.58,50.04 290.70,53.17 290.82,50.71 290.94,50.83 291.06,51.11 291.18,52.59 291.30,52.05 291.42,53.25 291.54,53.96 291.66,52.26 291.78,46.89 291.90,48.41 292.02,51.80 292.14,51.44 292.26,55.83 292.38,51.54 292.50,51.38 292.62,53.44 292.74,53.62 292.86,50.84 292.98,52.53 293.10,49.32 293.22,50.04 293.34,54.08 293.46,49.31 293.58,54.06 293.70,53.38 293.82,53.77 293.94,53.87 294.06,53.24 294.18,48.17 294.30,50.20 294.42,50.72 294.54,53.72 294.66,49.87 294.78,50.58 294.90,51.22 295.02,54.19 295.14,48.90 295.26,48.72 295.38,52.31 295.50,47.13 295.62,51.97 295.74,50.35 295.86,48.22 295.98,50.41 296.10,49.34 296.22,51.64 296.34,51.80 296.46,54.00 296.58,51.11 296.70,51.14 296.82,50.04 296.94,50.99 297.06,53.05 297.18,47.24 297.30,52.03 297.42,49.70 297.54,51.14 297.66,51.59 297.78,52.40 297.90,51.17 298.02,50.00 298.14,51.28 298.26,50.70 298.38,50.09 298.50,50.66 298.62,51.96 298.74,50.47 298.86,50.51 298.98,47.65 299.10,50.00 299.22,46.57 299.34,51.14 299.46,47.79 299.58,52.13 299.70,55.24 299.82,48.47 299.94,52.23 300.06,50.38 300.18,48.59 300.30,48.40 300.42,51.03 300.54,52.54 300.66,50.64 300.78,46.92 300.90,47.77 301.02,49.36 301.14,52.76 301.26,50.56 301.38,50.73 301.50,52.67" fill="none" stroke="#000" stroke-width="0.55" stroke-linejoin="round"/>
<path d="M352.80,64.95 353.05,64.95 353.30,64.95 353.55,64.95 353.80,64.95 354.05,64.95 354.30,64.95 354.55,64.95 354.80,64.95 355.05,64.95 355.30,64.95 355.55,64.95 355.80,64.95 356.05,64.95 356.30,64.95 356.55,64.95 356.80,64.95 357.05,64.95 357.30,64.95 357.55,64.95 357.80,64.95 358.05,64.95 358.30,64.95 358.55,64.95 358.80,64.95 359.05,64.95 359.30,67.54 359.55,70.81 359.80,73.61 360.05,76.40 360.30,79.13 360.55,81.18 360.80,82.89 361.05,84.68 361.30,86.46 361.55,88.25 361.80,90.04 362.05,91.83 362.30,93.52 362.55,94.67 362.80,95.64 363.05,96.71 363.30,97.78 363.55,98.85 363.80,99.93 364.05,101.00 364.30,102.07 364.55,103.14 364.80,104.22 365.05,105.29 365.30,106.32 365.55,107.03 365.80,107.30 366.05,107.86 366.30,108.42 366.55,108.98 366.80,109.54 367.05,110.10 367.30,110.66 367.55,111.22 367.80,111.78 368.05,112.35 368.30,112.91 368.55,113.47 368.80,114.03 369.05,114.59 369.30,115.15 369.55,115.52 369.80,115.59 370.05,115.82 370.30,116.13 370.55,116.43 370.80,116.74 371.05,117.04 371.30,117.34 371.55,117.65 371.80,117.95 372.05,118.26 372.30,118.56 372.55,118.86 372.80,119.17 373.05,119.47 373.30,119.77 373.55,120.08 373.80,120.38 374.05,120.69 374.30,120.99 374.55,121.21 374.80,121.20 375.05,121.17 375.30,121.32 375.55,121.46 375.80,121.61 376.05,121.76 376.30,121.91 376.55,122.05 376.80,122.20 377.05,122.35 377.30,122.49 377.55,122.64 377.80,122.79 378.05,122.93 378.30,123.08 378.55,123.23 378.80,123.38 379.05,123.52 379.30,123.67 379.55,123.82 379.80,123.25 380.05,123.82 380.30,123.67 380.55,123.52 380.80,123.38 381.05,123.23 381.30,123.58 381.55,124.27 381.80,122.99 382.05,121.33 382.30,119.68 382.55,118.02 382.80,116.37 383.05,114.71 383.30,113.06 383.55,111.41 383.80,109.75 384.05,108.10 384.30,106.44 384.55,104.79 384.80,102.90 385.05,101.32 385.30,100.42 385.55,100.17 385.80,99.92 386.05,99.67 386.30,99.42 386.55,99.17 386.80,98.92 387.05,98.67 387.30,98.42 387.55,98.17 387.80,97.92 388.05,97.67 388.30,97.42 388.55,97.17 388.80,96.92 389.05,96.67 389.30,96.42 389.55,96.17 389.80,95.92 390.05,95.67 390.30,95.42 390.55,95.17 390.80,94.92 391.05,94.67 391.30,94.42 391.55,94.17 391.80,93.92 392.05,93.38 392.30,92.84 392.55,92.69 392.80,92.66 393.05,92.62 393.30,92.58 393.55,92.54 393.80,92.51 394.05,92.47 394.30,92.43 394.55,92.40 394.80,92.36 395.05,92.32 395.30,92.28 395.55,92.25 395.80,92.21 396.05,92.17 396.30,92.13 396.55,92.10 396.80,92.06 397.05,92.02 397.30,91.98 397.55,91.95 397.80,91.91 398.05,91.87 398.30,91.84 398.55,91.80 398.80,91.76 399.05,91.72 399.30,91.69 399.55,91.65 399.80,91.61 400.05,91.57 400.30,91.54 400.55,91.50 400.80,93.50 401.05,92.21 401.30,90.37 401.55,88.53 401.80,86.70 402.05,84.86 402.30,82.96 402.55,80.92 402.80,79.61 403.05,79.31 403.30,79.01 403.55,78.71 403.80,78.41 404.05,78.11 404.30,77.81 404.55,77.51 404.80,77.13 405.05,76.42 405.30,75.89 405.55,75.86 405.80,75.83 406.05,75.80 406.30,75.77 406.55,75.74 406.80,75.71 407.05,75.67 407.30,75.64 407.55,75.61 407.80,75.58 408.05,75.55 408.30,75.52 408.55,75.49 408.80,75.46 409.05,75.43 409.30,75.40 409.55,75.37 409.80,75.34 410.05,75.31 410.30,75.28 410.55,75.25 410.80,75.22 411.05,75.19 411.30,75.16 411.55,75.13 411.80,75.10 412.05,75.07 412.30,75.04 412.55,75.01 412.80,74.98 413.05,74.95 413.30,74.92 413.55,74.89 413.80,74.86 414.05,74.83 414.30,74.80 414.55,74.77 414.80,74.74 415.05,74.71 415.30,74.67 415.55,74.64 415.80,74.61 416.05,74.58 416.30,74.55 416.55,74.52 416.80,74.49 417.05,74.46 417.30,74.43 417.55,74.40 417.80,74.37 418.05,74.34 418.30,74.31 418.55,74.28 418.80,74.25 419.05,74.22 419.30,74.19 419.55,74.16 419.80,74.13 420.05,74.10 420.30,74.07 420.55,74.04 420.80,74.01 421.05,73.98 421.30,74.72 421.55,75.78 421.80,74.35 422.05,72.51 422.30,70.68 422.55,68.85 422.80,66.95 423.05,64.89 423.30,63.51 423.55,63.26 423.80,63.02 424.05,62.78 424.30,62.54 424.55,62.30 424.80,62.06 425.05,61.81 425.30,61.57 425.55,61.33 425.80,61.02 426.05,60.44 426.30,60.01 426.55,59.98 426.80,59.94 427.05,59.90 427.30,59.87 427.55,59.83 427.80,59.79 428.05,59.76 428.30,59.72 428.55,59.69 428.80,59.65 429.05,59.61 429.30,59.58 429.55,59.54 429.80,59.51 430.05,59.47 430.30,59.43 430.55,59.40 430.80,59.36 431.05,59.32 431.30,59.29 431.55,59.25 431.80,59.22 432.05,59.18 432.30,59.14 432.55,59.11 432.80,59.07 433.05,59.03 433.30,59.00 433.55,58.96 433.80,58.93 434.05,58.89 434.30,58.85 434.55,58.82 434.80,58.78 435.05,58.74 435.30,58.71 435.55,58.67 435.80,58.64 436.05,58.60 436.30,58.56 436.55,58.53 436.80,58.49 437.05,58.46 437.30,58.42 437.55,58.38 437.80,58.35 438.05,58.31 438.30,58.27 438.55,58.24 438.80,58.20 439.05,58.17 439.30,58.13 439.55,58.09 439.80,58.06 440.05,58.02 440.30,58.74 440.55,59.79 440.80,58.35 441.05,56.51 441.30,54.68 441.55,52.85 441.80,50.95 442.05,48.88 442.30,47.44 442.55,47.23 442.80,47.02 443.05,46.81 443.30,46.60 443.55,46.40 443.80,46.19 444.05,45.98 444.30,45.77 444.55,45.56 444.80,45.28 445.05,44.71 445.30,44.28 445.55,44.28 445.80,44.27 446.05,44.26 446.30,44.25 446.55,44.25 446.80,44.24 447.05,44.23 447.30,44.23 447.55,44.22 447.80,44.21 448.05,44.21 448.30,44.20 448.55,44.19 448.80,44.19 449.05,44.18 449.30,44.17 449.55,44.17 449.80,44.16 450.05,44.15 450.30,44.15 450.55,44.14 450.80,44.13 451.05,44.13 451.30,44.12 451.55,44.11 451.80,44.11 452.05,44.10 452.30,44.09 452.55,44.09 452.80,44.08 453.05,44.07 453.30,44.07 453.55,44.06 453.80,44.05 454.05,44.05 454.30,44.04 454.55,44.03 454.80,44.03 455.05,44.02 455.30,44.01 455.55,44.01 455.80,44.00 456.05,43.99 456.30,43.99 456.55,43.98 456.80,43.97 457.05,43.97 457.30,43.96 457.55,43.95 457.80,43.95 458.05,43.94 458.30,43.93 458.55,43.93 458.80,43.92 459.05,43.91 459.30,43.91 459.55,43.90 459.80,43.89 460.05,43.89 460.30,43.88 460.55,43.87 460.80,43.87 461.05,43.86 461.30,43.85 461.55,43.85 461.80,43.84 462.05,43.83 462.30,43.82 462.55,43.82 462.80,43.81 463.05,43.80 463.30,43.80 463.55,43.79 463.55,51.21 463.30,51.22 463.05,51.22 462.80,51.23 462.55,51.24 462.30,51.25 462.05,51.25 461.80,51.26 461.55,51.27 461.30,51.27 461.05,51.28 460.80,51.29 460.55,51.29 460.30,51.30 460.05,51.31 459.80,51.31 459.55,51.32 459.30,51.33 459.05,51.33 458.80,51.34 458.55,51.35 458.30,51.35 458.05,51.36 457.80,51.37 457.55,51.37 457.30,51.38 457.05,51.39 456.80,51.39 456.55,51.40 456.30,51.41 456.05,51.41 455.80,51.42 455.55,51.43 455.30,51.43 455.05,51.44 454.80,51.45 454.55,51.45 454.30,51.46 454.05,51.47 453.80,51.47 453.55,51.48 453.30,51.49 453.05,51.49 452.80,51.50 452.55,51.51 452.30,51.51 452.05,51.52 451.80,51.53 451.55,51.53 451.30,51.54 451.05,51.55 450.80,51.55 450.55,51.56 450.30,51.57 450.05,51.57 449.80,51.58 449.55,51.59 449.30,51.59 449.05,51.60 448.80,51.61 448.55,51.61 448.30,51.62 448.05,51.63 447.80,51.63 447.55,51.64 447.30,51.65 447.05,51.65 446.80,51.66 446.55,51.67 446.30,51.68 446.05,51.68 445.80,51.69 445.55,51.70 445.30,51.70 445.05,51.29 444.80,51.05 444.55,51.19 444.30,51.40 444.05,51.60 443.80,51.81 443.55,52.02 443.30,52.23 443.05,52.44 442.80,52.65 442.55,52.85 442.30,53.06 442.05,52.04 441.80,52.99 441.55,54.75 441.30,56.59 441.05,58.42 440.80,60.25 440.55,62.48 440.30,64.32 440.05,65.11 439.80,65.15 439.55,65.18 439.30,65.22 439.05,65.25 438.80,65.29 438.55,65.33 438.30,65.36 438.05,65.40 437.80,65.44 437.55,65.47 437.30,65.51 437.05,65.54 436.80,65.58 436.55,65.62 436.30,65.65 436.05,65.69 435.80,65.73 435.55,65.76 435.30,65.80 435.05,65.83 434.80,65.87 434.55,65.91 434.30,65.94 434.05,65.98 433.80,66.01 433.55,66.05 433.30,66.09 433.05,66.12 432.80,66.16 432.55,66.20 432.30,66.23 432.05,66.27 431.80,66.30 431.55,66.34 431.30,66.38 431.05,66.41 430.80,66.45 430.55,66.49 430.30,66.52 430.05,66.56 429.80,66.59 429.55,66.63 429.30,66.67 429.05,66.70 428.80,66.74 428.55,66.78 428.30,66.81 428.05,66.85 427.80,66.88 427.55,66.92 427.30,66.96 427.05,66.99 426.80,67.03 426.55,67.06 426.30,67.10 426.05,66.75 425.80,66.56 425.55,66.74 425.30,66.98 425.05,67.22 424.80,67.46 424.55,67.71 424.30,67.95 424.05,68.19 423.80,68.43 423.55,68.67 423.30,68.91 423.05,68.01 422.80,68.99 422.55,70.75 422.30,72.59 422.05,74.42 421.80,76.25 421.55,78.48 421.30,80.33 421.05,81.13 420.80,81.16 420.55,81.19 420.30,81.22 420.05,81.25 419.80,81.28 419.55,81.31 419.30,81.34 419.05,81.37 418.80,81.40 418.55,81.43 418.30,81.46 418.05,81.49 417.80,81.53 417.55,81.56 417.30,81.59 417.05,81.62 416.80,81.65 416.55,81.68 416.30,81.71 416.05,81.74 415.80,81.77 415.55,81.80 415.30,81.83 415.05,81.86 414.80,81.89 414.55,81.92 414.30,81.95 414.05,81.98 413.80,82.01 413.55,82.04 413.30,82.07 413.05,82.10 412.80,82.13 412.55,82.16 412.30,82.19 412.05,82.22 411.80,82.25 411.55,82.28 411.30,82.31 411.05,82.34 410.80,82.37 410.55,82.40 410.30,82.43 410.05,82.46 409.80,82.49 409.55,82.53 409.30,82.56 409.05,82.59 408.80,82.62 408.55,82.65 408.30,82.68 408.05,82.71 407.80,82.74 407.55,82.77 407.30,82.80 407.05,82.83 406.80,82.86 406.55,82.89 406.30,82.92 406.05,82.95 405.80,82.98 405.55,83.01 405.30,83.04 405.05,82.56 404.80,82.35 404.55,82.57 404.30,82.87 404.05,83.17 403.80,83.47 403.55,83.77 403.30,84.07 403.05,84.37 402.80,84.67 402.55,83.96 402.30,84.99 402.05,86.76 401.80,88.60 401.55,90.44 401.30,92.28 401.05,94.11 400.80,96.50 400.55,98.58 400.30,98.61 400.05,98.65 399.80,98.69 399.55,98.73 399.30,98.76 399.05,98.80 398.80,98.84 398.55,98.87 398.30,98.91 398.05,98.95 397.80,98.99 397.55,99.02 397.30,99.06 397.05,99.10 396.80,99.14 396.55,99.17 396.30,99.21 396.05,99.25 395.80,99.29 395.55,99.32 395.30,99.36 395.05,99.40 394.80,99.44 394.55,99.47 394.30,99.51 394.05,99.55 393.80,99.58 393.55,99.62 393.30,99.66 393.05,99.70 392.80,99.73 392.55,99.77 392.30,99.70 392.05,99.32 391.80,99.28 391.55,99.53 391.30,99.78 391.05,100.03 390.80,100.28 390.55,100.53 390.30,100.78 390.05,101.03 389.80,101.28 389.55,101.53 389.30,101.78 389.05,102.03 388.80,102.28 388.55,102.53 388.30,102.78 388.05,103.03 387.80,103.28 387.55,103.53 387.30,103.78 387.05,104.03 386.80,104.28 386.55,104.53 386.30,104.78 386.05,105.03 385.80,105.28 385.55,105.53 385.30,105.78 385.05,105.38 384.80,105.42 384.55,106.84 384.30,108.50 384.05,110.15 383.80,111.81 383.55,113.46 383.30,115.12 383.05,116.77 382.80,118.43 382.55,120.08 382.30,121.73 382.05,123.39 381.80,125.04 381.55,127.07 381.30,128.66 381.05,129.30 380.80,129.45 380.55,129.59 380.30,129.74 380.05,129.89 379.80,130.75 379.55,129.89 379.30,129.74 379.05,129.59 378.80,129.45 378.55,129.30 378.30,129.15 378.05,129.01 377.80,128.86 377.55,128.71 377.30,128.57 377.05,128.42 376.80,128.27 376.55,128.12 376.30,127.98 376.05,127.83 375.80,127.68 375.55,127.54 375.30,127.39 375.05,127.24 374.80,126.92 374.55,126.43 374.30,126.04 374.05,125.73 373.80,125.43 373.55,125.13 373.30,124.82 373.05,124.52 372.80,124.21 372.55,123.91 372.30,123.61 372.05,123.30 371.80,123.00 371.55,122.69 371.30,122.39 371.05,122.09 370.80,121.78 370.55,121.48 370.30,121.17 370.05,120.87 369.80,120.50 369.55,119.85 369.30,119.10 369.05,118.54 368.80,117.98 368.55,117.42 368.30,116.86 368.05,116.30 367.80,115.74 367.55,115.18 367.30,114.62 367.05,114.05 366.80,113.49 366.55,112.93 366.30,112.37 366.05,111.81 365.80,111.25 365.55,110.40 365.30,109.17 365.05,108.05 364.80,106.98 364.55,105.90 364.30,104.83 364.05,103.76 363.80,102.69 363.55,101.61 363.30,100.54 363.05,99.47 362.80,98.40 362.55,97.22 362.30,95.65 362.05,93.77 361.80,91.98 361.55,90.19 361.30,88.41 361.05,86.62 360.80,84.83 360.55,82.97 360.30,80.63 360.05,77.77 359.80,74.98 359.55,72.18 359.30,69.86 359.05,72.45 358.80,72.45 358.55,72.45 358.30,72.45 358.05,72.45 357.80,72.45 357.55,72.45 357.30,72.45 357.05,72.45 356.80,72.45 356.55,72.45 356.30,72.45 356.05,72.45 355.80,72.45 355.55,72.45 355.30,72.45 355.05,72.45 354.80,72.45 354.55,72.45 354.30,72.45 354.05,72.45 353.80,72.45 353.55,72.45 353.30,72.45 353.05,72.45 352.80,72.45 Z" fill="#111" stroke="#111" stroke-width="0.6"/><path d="M352.80,75.12 352.92,59.35 353.04,69.46 353.16,66.15 353.28,66.58 353.40,67.44 353.52,61.67 353.64,68.23 353.76,65.82 353.88,81.05 354.00,70.09 354.12,68.43 354.24,68.74 354.36,67.83 354.48,66.44 354.60,68.96 354.72,72.32 354.84,70.07 354.96,73.85 355.08,69.86 355.20,70.79 355.32,75.80 355.44,71.84 355.56,68.65 355.68,69.00 355.80,71.13 355.92,75.18 356.04,68.31 356.16,68.21 356.28,72.41 356.40,65.76 356.52,67.90 356.64,72.20 356.76,71.38 356.88,69.89 357.00,71.46 357.12,59.86 357.24,73.29 357.36,66.40 357.48,64.37 357.60,71.38 357.72,73.29 357.84,69.06 357.96,66.84 358.08,70.42 358.20,70.52 358.32,75.11 358.44,72.14 358.56,70.87 358.68,73.79 358.80,69.37 358.92,66.25 359.04,71.31 359.16,71.80 359.28,68.77 359.40,69.20 359.52,71.59 359.64,69.63 359.76,74.77 359.88,75.93 360.00,74.73 360.12,77.90 360.24,78.41 360.36,81.60 360.48,78.72 360.60,81.34 360.72,84.91 360.84,86.40 360.96,81.63 361.08,84.90 361.20,87.02 361.32,86.50 361.44,90.68 361.56,86.99 361.68,90.39 361.80,89.07 361.92,93.88 362.04,92.12 362.16,92.52 362.28,91.11 362.40,97.32 362.52,96.17 362.64,96.73 362.76,98.67 362.88,97.79 363.00,96.15 363.12,96.55 363.24,97.13 363.36,102.12 363.48,97.00 363.60,99.09 363.72,100.30 363.84,102.02 363.96,103.07 364.08,100.24 364.20,99.92 364.32,103.79 364.44,106.70 364.56,105.98 364.68,105.07 364.80,104.56 364.92,106.07 365.04,105.76 365.16,108.62 365.28,105.67 365.40,108.09 365.52,108.23 365.64,110.17 365.76,109.94 365.88,115.92 366.00,113.45 366.12,113.70 366.24,105.26 366.36,109.86 366.48,109.96 366.60,112.89 366.72,106.05 366.84,114.36 366.96,114.22 367.08,108.99 367.20,110.29 367.32,110.53 367.44,112.36 367.56,114.19 367.68,117.95 367.80,112.44 367.92,115.33 368.04,114.01 368.16,118.53 368.28,116.29 368.40,118.51 368.52,113.12 368.64,115.72 368.76,114.50 368.88,120.11 369.00,118.21 369.12,116.10 369.24,116.00 369.36,118.57 369.48,116.04 369.60,116.20 369.72,120.23 369.84,125.60 369.96,117.63 370.08,116.69 370.20,114.89 370.32,114.02 370.44,119.63 370.56,120.81 370.68,118.52 370.80,119.42 370.92,119.44 371.04,120.01 371.16,115.53 371.28,118.67 371.40,120.19 371.52,117.65 371.64,118.92 371.76,118.53 371.88,120.07 372.00,123.41 372.12,120.65 372.24,121.34 372.36,124.26 372.48,124.38 372.60,127.49 372.72,116.69 372.84,125.36 372.96,121.65 373.08,122.97 373.20,124.71 373.32,125.77 373.44,125.96 373.56,122.86 373.68,126.92 373.80,121.87 373.92,132.92 374.04,125.12 374.16,121.37 374.28,129.05 374.40,125.69 374.52,129.22 374.64,123.37 374.76,122.00 374.88,124.43 375.00,126.83 375.12,122.64 375.24,125.59 375.36,124.67 375.48,129.91 375.60,123.11 375.72,128.96 375.84,123.99 375.96,123.30 376.08,124.25 376.20,123.01 376.32,126.77 376.44,129.15 376.56,126.86 376.68,128.05 376.80,130.62 376.92,126.19 377.04,125.68 377.16,124.61 377.28,120.51 377.40,127.69 377.52,119.81 377.64,127.07 377.76,125.17 377.88,128.28 378.00,124.22 378.12,122.49 378.24,126.51 378.36,123.97 378.48,125.26 378.60,126.54 378.72,126.22 378.84,126.17 378.96,124.07 379.08,126.52 379.20,120.31 379.32,127.05 379.44,123.48 379.56,130.29 379.68,131.37 379.80,121.36 379.92,120.03 380.04,126.17 380.16,122.72 380.28,127.84 380.40,124.66 380.52,120.65 380.64,125.42 380.76,126.06 380.88,126.69 381.00,122.39 381.12,127.45 381.24,128.19 381.36,122.69 381.48,124.44 381.60,125.28 381.72,124.11 381.84,127.12 381.96,123.78 382.08,120.95 382.20,120.52 382.32,120.83 382.44,123.94 382.56,118.99 382.68,118.75 382.80,118.65 382.92,117.13 383.04,119.91 383.16,114.31 383.28,115.60 383.40,113.74 383.52,113.52 383.64,109.91 383.76,113.97 383.88,110.02 384.00,109.36 384.12,106.81 384.24,106.16 384.36,107.40 384.48,107.16 384.60,106.05 384.72,106.00 384.84,104.73 384.96,103.39 385.08,105.88 385.20,105.12 385.32,103.20 385.44,105.78 385.56,107.31 385.68,104.16 385.80,102.69 385.92,106.13 386.04,109.96 386.16,103.96 386.28,104.46 386.40,104.12 386.52,107.84 386.64,98.59 386.76,104.63 386.88,106.23 387.00,100.39 387.12,106.89 387.24,103.85 387.36,100.67 387.48,102.80 387.60,97.16 387.72,99.61 387.84,106.15 387.96,97.97 388.08,105.89 388.20,100.03 388.32,103.19 388.44,100.02 388.56,92.89 388.68,98.02 388.80,100.32 388.92,95.85 389.04,94.53 389.16,99.50 389.28,96.29 389.40,93.07 389.52,95.85 389.64,100.15 389.76,96.20 389.88,100.11 390.00,101.58 390.12,97.41 390.24,94.26 390.36,93.73 390.48,97.49 390.60,99.77 390.72,98.56 390.84,100.00 390.96,96.81 391.08,98.77 391.20,96.54 391.32,97.01 391.44,94.39 391.56,93.28 391.68,96.56 391.80,94.94 391.92,94.69 392.04,88.77 392.16,96.89 392.28,106.49 392.40,100.00 392.52,94.19 392.64,98.56 392.76,97.35 392.88,93.82 393.00,99.82 393.12,93.30 393.24,85.03 393.36,98.30 393.48,92.92 393.60,99.71 393.72,93.02 393.84,91.27 393.96,100.69 394.08,92.07 394.20,96.12 394.32,99.98 394.44,95.68 394.56,94.94 394.68,95.73 394.80,98.40 394.92,93.47 395.04,99.14 395.16,99.08 395.28,104.67 395.40,96.23 395.52,93.63 395.64,98.42 395.76,94.97 395.88,97.19 396.00,96.59 396.12,100.54 396.24,94.15 396.36,95.73 396.48,87.60 396.60,93.22 396.72,101.20 396.84,103.42 396.96,92.26 397.08,90.95 397.20,97.17 397.32,96.35 397.44,92.41 397.56,98.67 397.68,97.41 397.80,99.24 397.92,94.44 398.04,102.23 398.16,98.04 398.28,96.34 398.40,94.37 398.52,95.34 398.64,99.60 398.76,96.28 398.88,100.57 399.00,98.42 399.12,101.09 399.24,99.29 399.36,95.83 399.48,89.83 399.60,97.39 399.72,98.85 399.84,97.11 399.96,99.09 400.08,95.50 400.20,96.04 400.32,93.68 400.44,100.93 400.56,97.03 400.68,95.02 400.80,93.03 400.92,94.19 401.04,95.65 401.16,93.46 401.28,90.64 401.40,92.96 401.52,92.03 401.64,90.46 401.76,89.03 401.88,88.79 402.00,86.93 402.12,86.50 402.24,83.38 402.36,85.64 402.48,82.91 402.60,87.84 402.72,77.01 402.84,84.63 402.96,85.05 403.08,81.35 403.20,83.13 403.32,83.88 403.44,83.26 403.56,79.89 403.68,80.50 403.80,83.66 403.92,83.80 404.04,80.38 404.16,80.34 404.28,80.56 404.40,82.42 404.52,76.09 404.64,75.27 404.76,79.50 404.88,75.53 405.00,77.02 405.12,79.04 405.24,80.02 405.36,74.88 405.48,81.30 405.60,72.71 405.72,80.79 405.84,73.54 405.96,74.68 406.08,80.94 406.20,77.47 406.32,76.04 406.44,77.18 406.56,80.27 406.68,78.88 406.80,79.10 406.92,82.74 407.04,76.73 407.16,77.57 407.28,77.21 407.40,83.02 407.52,82.88 407.64,83.71 407.76,79.26 407.88,79.54 408.00,83.21 408.12,79.24 408.24,83.41 408.36,82.68 408.48,77.90 408.60,79.66 408.72,78.90 408.84,85.72 408.96,88.10 409.08,79.10 409.20,79.50 409.32,71.56 409.44,79.61 409.56,78.94 409.68,74.42 409.80,80.35 409.92,72.03 410.04,76.09 410.16,77.38 410.28,72.80 410.40,79.78 410.52,81.31 410.64,72.77 410.76,72.80 410.88,79.69 411.00,77.86 411.12,73.92 411.24,77.37 411.36,77.90 411.48,78.14 411.60,81.66 411.72,80.56 411.84,85.34 411.96,83.70 412.08,81.11 412.20,82.45 412.32,83.21 412.44,81.39 412.56,75.13 412.68,81.92 412.80,79.01 412.92,84.30 413.04,78.72 413.16,80.39 413.28,79.81 413.40,84.63 413.52,79.30 413.64,77.50 413.76,79.83 413.88,77.07 414.00,78.76 414.12,77.69 414.24,78.09 414.36,83.06 414.48,64.56 414.60,76.99 414.72,76.14 414.84,79.56 414.96,73.05 415.08,74.90 415.20,76.76 415.32,79.28 415.44,77.22 415.56,75.58 415.68,74.51 415.80,79.38 415.92,82.82 416.04,79.04 416.16,79.13 416.28,80.35 416.40,75.59 416.52,77.72 416.64,77.50 416.76,79.28 416.88,77.50 417.00,73.44 417.12,81.27 417.24,83.67 417.36,77.05 417.48,79.25 417.60,78.83 417.72,80.42 417.84,72.66 417.96,82.45 418.08,75.10 418.20,80.49 418.32,76.81 418.44,75.47 418.56,76.19 418.68,79.80 418.80,74.31 418.92,75.36 419.04,75.08 419.16,71.07 419.28,81.79 419.40,79.40 419.52,77.34 419.64,81.92 419.76,75.32 419.88,78.60 420.00,84.80 420.12,82.39 420.24,71.66 420.36,68.35 420.48,75.94 420.60,82.53 420.72,77.67 420.84,78.34 420.96,81.21 421.08,75.68 421.20,78.97 421.32,81.28 421.44,79.41 421.56,78.14 421.68,75.61 421.80,76.54 421.92,73.66 422.04,75.40 422.16,76.50 422.28,70.73 422.40,67.58 422.52,69.57 422.64,69.80 422.76,69.81 422.88,69.06 423.00,65.09 423.12,64.24 423.24,70.46 423.36,63.59 423.48,72.92 423.60,65.61 423.72,68.97 423.84,69.17 423.96,69.10 424.08,69.17 424.20,63.78 424.32,67.00 424.44,66.22 424.56,67.06 424.68,69.55 424.80,65.03 424.92,63.60 425.04,63.48 425.16,64.62 425.28,67.45 425.40,63.12 425.52,68.58 425.64,65.16 425.76,63.89 425.88,60.59 426.00,65.31 426.12,67.05 426.24,58.66 426.36,68.05 426.48,69.72 426.60,64.96 426.72,65.52 426.84,71.38 426.96,67.49 427.08,60.74 427.20,63.91 427.32,63.64 427.44,64.34 427.56,56.27 427.68,66.12 427.80,61.55 427.92,64.47 428.04,63.55 428.16,67.38 428.28,63.43 428.40,61.82 428.52,65.93 428.64,69.38 428.76,63.54 428.88,68.75 429.00,64.77 429.12,61.99 429.24,68.85 429.36,61.72 429.48,68.36 429.60,63.58 429.72,66.22 429.84,60.60 429.96,61.55 430.08,67.58 430.20,64.77 430.32,64.56 430.44,62.94 430.56,65.72 430.68,59.66 430.80,60.01 430.92,63.29 431.04,60.44 431.16,60.03 431.28,61.69 431.40,61.13 431.52,60.84 431.64,73.64 431.76,64.86 431.88,65.77 432.00,61.63 432.12,59.83 432.24,55.95 432.36,59.83 432.48,53.96 432.60,59.59 432.72,64.41 432.84,67.55 432.96,65.61 433.08,59.02 433.20,63.47 433.32,59.68 433.44,65.59 433.56,62.06 433.68,65.09 433.80,70.83 433.92,64.99 434.04,70.03 434.16,62.80 434.28,60.83 434.40,65.99 434.52,66.57 434.64,58.67 434.76,60.70 434.88,56.38 435.00,60.03 435.12,63.20 435.24,59.71 435.36,58.75 435.48,56.37 435.60,62.16 435.72,63.96 435.84,63.47 435.96,62.90 436.08,58.13 436.20,68.58 436.32,62.96 436.44,62.93 436.56,66.48 436.68,56.77 436.80,64.53 436.92,64.51 437.04,66.55 437.16,70.41 437.28,67.06 437.40,60.06 437.52,65.00 437.64,66.68 437.76,65.85 437.88,61.09 438.00,59.13 438.12,66.27 438.24,65.34 438.36,63.78 438.48,58.20 438.60,69.62 438.72,54.00 438.84,61.68 438.96,68.72 439.08,61.57 439.20,62.39 439.32,57.67 439.44,66.34 439.56,57.50 439.68,62.38 439.80,61.65 439.92,58.04 440.04,64.65 440.16,56.71 440.28,58.99 440.40,60.75 440.52,59.95 440.64,61.05 440.76,61.17 440.88,58.49 441.00,57.31 441.12,56.50 441.24,55.70 441.36,56.92 441.48,54.49 441.60,54.94 441.72,53.20 441.84,51.13 441.96,53.01 442.08,48.18 442.20,51.46 442.32,56.27 442.44,47.89 442.56,50.70 442.68,45.96 442.80,48.65 442.92,45.87 443.04,48.86 443.16,47.51 443.28,48.77 443.40,53.19 443.52,49.27 443.64,50.76 443.76,48.88 443.88,48.74 444.00,46.53 444.12,43.23 444.24,49.31 444.36,54.42 444.48,51.06 444.60,48.08 444.72,54.29 444.84,48.54 444.96,48.20 445.08,47.09 445.20,47.63 445.32,49.79 445.44,57.01 445.56,50.25 445.68,47.09 445.80,48.53 445.92,49.99 446.04,44.02 446.16,49.58 446.28,50.69 446.40,49.34 446.52,49.66 446.64,42.65 446.76,40.98 446.88,50.85 447.00,50.01 447.12,40.68 447.24,46.95 447.36,45.82 447.48,47.55 447.60,46.21 447.72,43.66 447.84,46.11 447.96,45.90 448.08,45.53 448.20,39.73 448.32,36.03 448.44,43.86 448.56,41.22 448.68,47.64 448.80,49.59 448.92,59.59 449.04,45.82 449.16,47.46 449.28,51.50 449.40,45.24 449.52,50.80 449.64,50.98 449.76,49.64 449.88,53.92 450.00,46.36 450.12,52.53 450.24,46.05 450.36,46.29 450.48,45.00 450.60,49.90 450.72,45.40 450.84,48.65 450.96,44.34 451.08,51.94 451.20,54.83 451.32,48.96 451.44,53.00 451.56,49.50 451.68,54.67 451.80,47.61 451.92,41.45 452.04,51.47 452.16,46.22 452.28,43.55 452.40,44.31 452.52,40.85 452.64,46.51 452.76,43.70 452.88,52.43 453.00,49.23 453.12,42.08 453.24,42.49 453.36,45.96 453.48,41.38 453.60,47.45 453.72,47.57 453.84,45.34 453.96,45.96 454.08,49.23 454.20,52.64 454.32,53.04 454.44,48.03 454.56,50.66 454.68,45.33 454.80,49.10 454.92,43.81 455.04,49.43 455.16,42.42 455.28,43.04 455.40,46.09 455.52,48.59 455.64,42.41 455.76,45.95 455.88,48.00 456.00,48.41 456.12,44.84 456.24,47.79 456.36,46.20 456.48,51.43 456.60,48.37 456.72,41.94 456.84,39.86 456.96,47.66 457.08,51.34 457.20,47.90 457.32,50.07 457.44,44.81 457.56,41.62 457.68,49.00 457.80,46.74 457.92,48.55 458.04,41.25 458.16,46.45 458.28,43.49 458.40,48.60 458.52,44.18 458.64,43.49 458.76,43.35 458.88,50.15 459.00,46.13 459.12,43.71 459.24,43.52 459.36,43.38 459.48,52.09 459.60,42.63 459.72,44.76 459.84,50.12 459.96,52.42 460.08,48.05 460.20,51.08 460.32,51.22 460.44,52.32 460.56,48.87 460.68,54.15 460.80,49.57 460.92,53.59 461.04,43.93 461.16,50.64 461.28,42.62 461.40,41.44 461.52,47.96 461.64,43.99 461.76,48.61 461.88,43.58 462.00,52.96 462.12,47.84 462.24,44.09 462.36,48.86 462.48,51.24 462.60,45.20 462.72,49.58 462.84,54.97 462.96,51.09 463.08,48.66 463.20,46.79 463.32,50.76 463.44,43.10 463.56,37.69" fill="none" stroke="#000" stroke-width="0.55" stroke-linejoin="round"/>
<path d="M516.10,71.80 516.35,71.80 516.60,71.80 516.85,71.80 517.10,71.80 517.35,71.80 517.60,71.80 517.85,71.80 518.10,71.80 518.35,71.80 518.60,71.80 518.85,71.80 519.10,71.80 519.35,71.80 519.60,71.80 519.85,71.80 520.10,71.80 520.35,71.80 520.60,71.80 520.85,71.80 521.10,71.80 521.35,71.80 521.60,71.80 521.85,71.80 522.10,71.80 522.35,71.80 522.60,71.80 522.85,71.80 523.10,71.80 523.35,71.80 523.60,71.80 523.85,71.80 524.10,71.80 524.35,71.80 524.60,71.80 524.85,71.80 525.10,71.80 525.35,71.80 525.60,71.80 525.85,71.80 526.10,71.80 526.35,71.80 526.60,71.80 526.85,71.80 527.10,71.80 527.35,71.80 527.60,71.80 527.85,71.80 528.10,71.80 528.35,71.80 528.60,71.80 528.85,71.80 529.10,71.80 529.35,71.80 529.60,71.80 529.85,72.22 530.10,73.42 530.35,75.73 530.60,77.98 530.85,80.29 531.10,82.80 531.35,85.30 531.60,87.67 531.85,89.88 532.10,92.09 532.35,94.31 532.60,96.52 532.85,98.69 533.10,99.89 533.35,100.91 533.60,101.96 533.85,103.00 534.10,104.05 534.35,105.09 534.60,106.14 534.85,107.19 535.10,108.23 535.35,109.28 535.60,110.23 535.85,110.41 536.10,110.75 536.35,111.10 536.60,111.45 536.85,111.80 537.10,112.15 537.35,112.49 537.60,112.84 537.85,113.19 538.10,113.54 538.35,113.89 538.60,114.23 538.85,114.58 539.10,114.93 539.35,115.28 539.60,115.63 539.85,115.97 540.10,116.32 540.35,116.67 540.60,117.00 540.85,117.25 541.10,117.49 541.35,117.74 541.60,117.99 541.85,118.24 542.10,118.49 542.35,118.74 542.60,118.99 542.85,119.24 543.10,119.49 543.35,119.74 543.60,119.99 543.85,120.24 544.10,120.49 544.35,120.74 544.60,120.99 544.85,121.24 545.10,121.49 545.35,121.74 545.60,121.99 545.85,122.24 546.10,122.49 546.35,122.74 546.60,122.99 546.85,123.21 547.10,123.38 547.35,123.56 547.60,123.74 547.85,123.92 548.10,124.10 548.35,124.29 548.60,124.47 548.85,124.65 549.10,124.84 549.35,125.02 549.60,125.20 549.85,125.38 550.10,125.57 550.35,125.75 550.60,125.93 550.85,126.08 551.10,126.08 551.35,126.00 551.60,126.00 551.85,126.00 552.10,126.48 552.35,125.56 552.60,123.68 552.85,121.76 553.10,119.84 553.35,117.92 553.60,116.00 553.85,114.08 554.10,112.17 554.35,110.25 554.60,108.33 554.85,106.37 555.10,104.95 555.35,104.46 555.60,104.27 555.85,104.07 556.10,103.87 556.35,103.68 556.60,103.48 556.85,103.28 557.10,103.08 557.35,102.89 557.60,102.69 557.85,102.49 558.10,102.30 558.35,102.10 558.60,101.90 558.85,101.70 559.10,101.51 559.35,101.31 559.60,101.11 559.85,100.92 560.10,100.67 560.35,100.48 560.60,100.40 560.85,100.36 561.10,100.33 561.35,100.29 561.60,100.25 561.85,100.22 562.10,100.18 562.35,100.15 562.60,100.11 562.85,100.08 563.10,100.04 563.35,100.00 563.60,99.97 563.85,99.93 564.10,99.90 564.35,99.86 564.60,99.83 564.85,99.79 565.10,99.75 565.35,99.72 565.60,99.68 565.85,99.65 566.10,99.61 566.35,99.58 566.60,99.54 566.85,99.50 567.10,99.47 567.35,99.43 567.60,99.40 567.85,99.36 568.10,99.33 568.35,99.29 568.60,99.25 568.85,99.22 569.10,99.18 569.35,99.15 569.60,99.11 569.85,99.49 570.10,98.71 570.35,96.17 570.60,93.58 570.85,90.98 571.10,88.37 571.35,86.10 571.60,85.48 571.85,85.21 572.10,84.94 572.35,84.67 572.60,84.40 572.85,84.14 573.10,83.87 573.35,83.60 573.60,83.33 573.85,83.02 574.10,82.73 574.35,82.60 574.60,82.57 574.85,82.54 575.10,82.52 575.35,82.49 575.60,82.46 575.85,82.43 576.10,82.40 576.35,82.37 576.60,82.34 576.85,82.31 577.10,82.28 577.35,82.25 577.60,82.22 577.85,82.19 578.10,82.16 578.35,82.13 578.60,82.10 578.85,82.07 579.10,82.04 579.35,82.02 579.60,81.99 579.85,81.96 580.10,81.93 580.35,81.90 580.60,81.87 580.85,81.84 581.10,81.81 581.35,81.78 581.60,81.75 581.85,81.72 582.10,81.69 582.35,81.66 582.60,81.63 582.85,81.60 583.10,81.57 583.35,81.54 583.60,81.52 583.85,81.49 584.10,81.46 584.35,81.43 584.60,81.40 584.85,81.37 585.10,81.34 585.35,81.31 585.60,81.28 585.85,81.25 586.10,81.22 586.35,81.19 586.60,81.16 586.85,81.13 587.10,81.10 587.35,81.07 587.60,81.64 587.85,79.55 588.10,77.32 588.35,75.08 588.60,72.85 588.85,70.58 589.10,68.98 589.35,68.45 589.60,68.21 589.85,67.98 590.10,67.75 590.35,67.51 590.60,67.28 590.85,67.05 591.10,66.81 591.35,66.58 591.60,66.35 591.85,66.08 592.10,65.82 592.35,65.70 592.60,65.66 592.85,65.61 593.10,65.56 593.35,65.51 593.60,65.47 593.85,65.42 594.10,65.37 594.35,65.32 594.60,65.28 594.85,65.23 595.10,65.18 595.35,65.14 595.60,65.09 595.85,65.04 596.10,64.99 596.35,64.95 596.60,64.90 596.85,64.85 597.10,64.80 597.35,64.76 597.60,64.71 597.85,64.66 598.10,64.61 598.35,64.57 598.60,64.52 598.85,64.47 599.10,64.42 599.35,64.38 599.60,64.33 599.85,64.28 600.10,64.23 600.35,64.19 600.60,64.14 600.85,64.09 601.10,64.04 601.35,64.00 601.60,63.95 601.85,63.90 602.10,63.85 602.35,63.81 602.60,63.76 602.85,63.71 603.10,63.67 603.35,63.62 603.60,64.07 603.85,62.61 604.10,61.01 604.35,59.40 604.60,57.79 604.85,56.14 605.10,54.92 605.35,54.46 605.60,54.25 605.85,54.04 606.10,53.83 606.35,53.62 606.60,53.42 606.85,53.21 607.10,53.00 607.35,52.79 607.60,52.58 607.85,52.34 608.10,52.11 608.35,52.00 608.60,51.97 608.85,51.93 609.10,51.89 609.35,51.86 609.60,51.82 609.85,51.78 610.10,51.75 610.35,51.71 610.60,51.67 610.85,51.64 611.10,51.60 611.35,51.56 611.60,51.53 611.85,51.49 612.10,51.45 612.35,51.42 612.60,51.38 612.85,51.34 613.10,51.31 613.35,51.27 613.60,51.23 613.85,51.20 614.10,51.16 614.35,51.12 614.60,51.08 614.85,51.05 615.10,51.01 615.35,50.97 615.60,50.94 615.85,50.90 616.10,50.86 616.35,50.83 616.60,50.79 616.85,50.75 617.10,50.72 617.35,50.68 617.60,50.64 617.85,50.61 618.10,50.57 618.10,52.46 617.85,52.50 617.60,52.53 617.35,52.57 617.10,52.61 616.85,52.64 616.60,52.68 616.35,52.72 616.10,52.75 615.85,52.79 615.60,52.83 615.35,52.86 615.10,52.90 614.85,52.94 614.60,52.97 614.35,53.01 614.10,53.05 613.85,53.08 613.60,53.12 613.35,53.16 613.10,53.19 612.85,53.23 612.60,53.27 612.35,53.30 612.10,53.34 611.85,53.38 611.60,53.42 611.35,53.45 611.10,53.49 610.85,53.53 610.60,53.56 610.35,53.60 610.10,53.64 609.85,53.67 609.60,53.71 609.35,53.75 609.10,53.78 608.85,53.82 608.60,53.86 608.35,53.89 608.10,53.86 607.85,53.91 607.60,54.08 607.35,54.29 607.10,54.50 606.85,54.71 606.60,54.92 606.35,55.12 606.10,55.33 605.85,55.54 605.60,55.75 605.35,55.96 605.10,55.92 604.85,56.78 604.60,58.35 604.35,59.96 604.10,61.57 603.85,63.17 603.60,64.93 603.35,65.48 603.10,65.52 602.85,65.57 602.60,65.62 602.35,65.67 602.10,65.71 601.85,65.76 601.60,65.81 601.35,65.86 601.10,65.90 600.85,65.95 600.60,66.00 600.35,66.05 600.10,66.09 599.85,66.14 599.60,66.19 599.35,66.24 599.10,66.28 598.85,66.33 598.60,66.38 598.35,66.43 598.10,66.47 597.85,66.52 597.60,66.57 597.35,66.61 597.10,66.66 596.85,66.71 596.60,66.76 596.35,66.80 596.10,66.85 595.85,66.90 595.60,66.95 595.35,66.99 595.10,67.04 594.85,67.09 594.60,67.14 594.35,67.18 594.10,67.23 593.85,67.28 593.60,67.33 593.35,67.37 593.10,67.42 592.85,67.47 592.60,67.52 592.35,67.56 592.10,67.54 591.85,67.60 591.60,67.80 591.35,68.03 591.10,68.27 590.85,68.50 590.60,68.73 590.35,68.97 590.10,69.20 589.85,69.43 589.60,69.67 589.35,69.90 589.10,69.84 588.85,71.09 588.60,73.29 588.35,75.52 588.10,77.75 587.85,79.99 587.60,82.36 587.35,82.98 587.10,83.01 586.85,83.04 586.60,83.07 586.35,83.10 586.10,83.13 585.85,83.16 585.60,83.19 585.35,83.22 585.10,83.25 584.85,83.28 584.60,83.31 584.35,83.34 584.10,83.37 583.85,83.40 583.60,83.43 583.35,83.46 583.10,83.48 582.85,83.51 582.60,83.54 582.35,83.57 582.10,83.60 581.85,83.63 581.60,83.66 581.35,83.69 581.10,83.72 580.85,83.75 580.60,83.78 580.35,83.81 580.10,83.84 579.85,83.87 579.60,83.90 579.35,83.93 579.10,83.96 578.85,83.98 578.60,84.01 578.35,84.04 578.10,84.07 577.85,84.10 577.60,84.13 577.35,84.16 577.10,84.19 576.85,84.22 576.60,84.25 576.35,84.28 576.10,84.31 575.85,84.34 575.60,84.37 575.35,84.40 575.10,84.43 574.85,84.46 574.60,84.48 574.35,84.51 574.10,84.45 573.85,84.50 573.60,84.73 573.35,85.00 573.10,85.27 572.85,85.53 572.60,85.80 572.35,86.07 572.10,86.34 571.85,86.61 571.60,86.88 571.35,86.79 571.10,88.79 570.85,91.37 570.60,93.96 570.35,96.56 570.10,99.22 569.85,100.55 569.60,101.00 569.35,101.04 569.10,101.07 568.85,101.11 568.60,101.15 568.35,101.18 568.10,101.22 567.85,101.25 567.60,101.29 567.35,101.32 567.10,101.36 566.85,101.40 566.60,101.43 566.35,101.47 566.10,101.50 565.85,101.54 565.60,101.57 565.35,101.61 565.10,101.65 564.85,101.68 564.60,101.72 564.35,101.75 564.10,101.79 563.85,101.82 563.60,101.86 563.35,101.90 563.10,101.93 562.85,101.97 562.60,102.00 562.35,102.04 562.10,102.07 561.85,102.11 561.60,102.15 561.35,102.18 561.10,102.22 560.85,102.25 560.60,102.29 560.35,102.28 560.10,102.29 559.85,102.44 559.60,102.63 559.35,102.83 559.10,103.03 558.85,103.22 558.60,103.42 558.35,103.62 558.10,103.82 557.85,104.01 557.60,104.21 557.35,104.41 557.10,104.60 556.85,104.80 556.60,105.00 556.35,105.20 556.10,105.39 555.85,105.59 555.60,105.79 555.35,105.98 555.10,105.89 554.85,106.94 554.60,108.82 554.35,110.74 554.10,112.66 553.85,114.58 553.60,116.50 553.35,118.42 553.10,120.33 552.85,122.25 552.60,124.17 552.35,126.14 552.10,127.52 551.85,128.00 551.60,128.00 551.35,128.00 551.10,127.92 550.85,127.70 550.60,127.48 550.35,127.30 550.10,127.12 549.85,126.93 549.60,126.75 549.35,126.57 549.10,126.38 548.85,126.20 548.60,126.02 548.35,125.83 548.10,125.65 547.85,125.47 547.60,125.29 547.35,125.10 547.10,124.91 546.85,124.69 546.60,124.41 546.35,124.16 546.10,123.91 545.85,123.66 545.60,123.41 545.35,123.16 545.10,122.91 544.85,122.66 544.60,122.41 544.35,122.16 544.10,121.91 543.85,121.66 543.60,121.41 543.35,121.16 543.10,120.91 542.85,120.66 542.60,120.41 542.35,120.16 542.10,119.91 541.85,119.66 541.60,119.41 541.35,119.16 541.10,118.91 540.85,118.65 540.60,118.32 540.35,117.96 540.10,117.61 539.85,117.26 539.60,116.91 539.35,116.56 539.10,116.21 538.85,115.87 538.60,115.52 538.35,115.17 538.10,114.82 537.85,114.47 537.60,114.13 537.35,113.78 537.10,113.43 536.85,113.08 536.60,112.73 536.35,112.39 536.10,112.04 535.85,111.69 535.60,111.17 535.35,110.03 535.10,108.98 534.85,107.94 534.60,106.89 534.35,105.84 534.10,104.80 533.85,103.75 533.60,102.70 533.35,101.66 533.10,100.59 532.85,99.22 532.60,96.96 532.35,94.75 532.10,92.53 531.85,90.32 531.60,88.10 531.35,85.70 531.10,83.20 530.85,80.71 530.60,78.42 530.35,76.17 530.10,73.98 529.85,73.38 529.60,73.80 529.35,73.80 529.10,73.80 528.85,73.80 528.60,73.80 528.35,73.80 528.10,73.80 527.85,73.80 527.60,73.80 527.35,73.80 527.10,73.80 526.85,73.80 526.60,73.80 526.35,73.80 526.10,73.80 525.85,73.80 525.60,73.80 525.35,73.80 525.10,73.80 524.85,73.80 524.60,73.80 524.35,73.80 524.10,73.80 523.85,73.80 523.60,73.80 523.35,73.80 523.10,73.80 522.85,73.80 522.60,73.80 522.35,73.80 522.10,73.80 521.85,73.80 521.60,73.80 521.35,73.80 521.10,73.80 520.85,73.80 520.60,73.80 520.35,73.80 520.10,73.80 519.85,73.80 519.60,73.80 519.35,73.80 519.10,73.80 518.85,73.80 518.60,73.80 518.35,73.80 518.10,73.80 517.85,73.80 517.60,73.80 517.35,73.80 517.10,73.80 516.85,73.80 516.60,73.80 516.35,73.80 516.10,73.80 Z" fill="#111" stroke="#111" stroke-width="0.6"/><path d="M516.10,71.83 516.22,72.45 516.34,75.68 516.46,73.83 516.58,69.64 516.70,72.58 516.82,71.51 516.94,72.94 517.06,69.84 517.18,72.94 517.30,73.02 517.42,75.34 517.54,72.82 517.66,73.39 517.78,69.39 517.90,76.17 518.02,68.65 518.14,74.07 518.26,71.62 518.38,70.63 518.50,71.22 518.62,70.99 518.74,72.79 518.86,71.78 518.98,74.70 519.10,68.71 519.22,71.98 519.34,70.47 519.46,73.42 519.58,72.07 519.70,71.65 519.82,72.83 519.94,69.76 520.06,73.86 520.18,72.29 520.30,73.57 520.42,73.33 520.54,69.96 520.66,70.31 520.78,71.23 520.90,72.90 521.02,73.22 521.14,70.44 521.26,70.50 521.38,70.38 521.50,71.09 521.62,71.57 521.74,71.99 521.86,76.03 521.98,71.38 522.10,71.70 522.22,73.48 522.34,70.81 522.46,71.87 522.58,72.92 522.70,74.46 522.82,70.62 522.94,75.69 523.06,72.65 523.18,73.26 523.30,74.01 523.42,73.82 523.54,74.46 523.66,73.14 523.78,73.14 523.90,73.86 524.02,71.20 524.14,75.38 524.26,71.90 524.38,70.68 524.50,76.41 524.62,72.51 524.74,70.43 524.86,75.94 524.98,71.94 525.10,74.89 525.22,71.28 525.34,72.29 525.46,69.76 525.58,69.39 525.70,70.91 525.82,72.78 525.94,74.39 526.06,77.41 526.18,70.97 526.30,75.29 526.42,72.11 526.54,72.87 526.66,70.20 526.78,70.32 526.90,71.25 527.02,70.83 527.14,72.79 527.26,71.36 527.38,78.01 527.50,73.08 527.62,73.08 527.74,74.71 527.86,73.38 527.98,72.46 528.10,72.13 528.22,72.37 528.34,74.81 528.46,74.67 528.58,73.91 528.70,74.68 528.82,72.04 528.94,78.54 529.06,70.48 529.18,75.33 529.30,72.77 529.42,72.86 529.54,73.89 529.66,72.98 529.78,72.66 529.90,75.01 530.02,73.18 530.14,73.28 530.26,75.19 530.38,74.77 530.50,78.28 530.62,78.14 530.74,79.61 530.86,82.23 530.98,83.35 531.10,83.26 531.22,84.74 531.34,86.24 531.46,87.89 531.58,87.78 531.70,89.01 531.82,90.81 531.94,91.33 532.06,92.67 532.18,93.61 532.30,93.38 532.42,94.62 532.54,94.33 532.66,97.14 532.78,99.19 532.90,98.40 533.02,101.11 533.14,101.23 533.26,100.52 533.38,100.87 533.50,101.45 533.62,100.99 533.74,101.99 533.86,103.01 533.98,104.29 534.10,105.03 534.22,103.98 534.34,106.12 534.46,105.04 534.58,106.41 534.70,107.35 534.82,107.58 534.94,107.84 535.06,108.78 535.18,108.50 535.30,109.00 535.42,110.16 535.54,112.01 535.66,111.14 535.78,114.09 535.90,111.71 536.02,106.80 536.14,108.00 536.26,113.44 536.38,111.43 536.50,110.86 536.62,110.43 536.74,113.86 536.86,113.40 536.98,113.13 537.10,112.87 537.22,114.25 537.34,113.22 537.46,110.34 537.58,113.34 537.70,112.78 537.82,112.79 537.94,114.39 538.06,113.51 538.18,109.23 538.30,116.20 538.42,115.78 538.54,114.31 538.66,114.18 538.78,115.03 538.90,112.93 539.02,115.63 539.14,115.22 539.26,115.51 539.38,115.01 539.50,115.51 539.62,118.33 539.74,118.63 539.86,117.74 539.98,117.01 540.10,115.98 540.22,118.19 540.34,119.66 540.46,115.23 540.58,119.79 540.70,114.90 540.82,117.80 540.94,119.28 541.06,116.35 541.18,116.14 541.30,119.00 541.42,120.22 541.54,118.55 541.66,121.45 541.78,118.35 541.90,122.25 542.02,119.70 542.14,120.08 542.26,120.70 542.38,120.31 542.50,122.89 542.62,123.69 542.74,121.06 542.86,120.24 542.98,119.05 543.10,119.65 543.22,120.96 543.34,120.76 543.46,120.76 543.58,121.01 543.70,121.80 543.82,119.14 543.94,119.62 544.06,123.16 544.18,122.77 544.30,120.79 544.42,123.47 544.54,120.31 544.66,121.06 544.78,118.83 544.90,122.99 545.02,121.51 545.14,123.39 545.26,123.05 545.38,121.53 545.50,121.77 545.62,123.50 545.74,121.44 545.86,121.82 545.98,122.40 546.10,123.68 546.22,124.04 546.34,126.17 546.46,123.00 546.58,125.07 546.70,122.25 546.82,124.66 546.94,123.96 547.06,126.56 547.18,125.52 547.30,124.08 547.42,126.26 547.54,126.08 547.66,124.87 547.78,122.86 547.90,124.00 548.02,129.93 548.14,125.60 548.26,127.36 548.38,123.99 548.50,124.33 548.62,125.84 548.74,125.95 548.86,127.75 548.98,124.75 549.10,126.98 549.22,128.57 549.34,124.67 549.46,127.91 549.58,125.12 549.70,127.57 549.82,127.94 549.94,130.29 550.06,126.43 550.18,127.64 550.30,129.11 550.42,125.56 550.54,127.47 550.66,125.82 550.78,125.92 550.90,128.60 551.02,128.62 551.14,132.17 551.26,129.71 551.38,129.41 551.50,126.24 551.62,125.92 551.74,126.60 551.86,122.22 551.98,129.40 552.10,125.10 552.22,125.21 552.34,125.13 552.46,125.32 552.58,124.81 552.70,122.52 552.82,122.30 552.94,121.07 553.06,119.48 553.18,119.47 553.30,118.49 553.42,116.37 553.54,117.55 553.66,114.47 553.78,114.97 553.90,113.20 554.02,112.52 554.14,111.76 554.26,112.01 554.38,109.70 554.50,109.65 554.62,109.96 554.74,107.23 554.86,106.79 554.98,106.79 555.10,105.16 555.22,106.48 555.34,104.52 555.46,106.54 555.58,105.26 555.70,103.56 555.82,107.33 555.94,104.61 556.06,104.11 556.18,102.70 556.30,103.23 556.42,103.99 556.54,104.22 556.66,105.61 556.78,101.34 556.90,102.66 557.02,104.90 557.14,103.04 557.26,103.41 557.38,105.59 557.50,103.43 557.62,103.40 557.74,102.31 557.86,105.37 557.98,103.99 558.10,101.36 558.22,103.50 558.34,100.80 558.46,104.26 558.58,103.75 558.70,102.34 558.82,101.92 558.94,99.70 559.06,103.64 559.18,102.15 559.30,101.74 559.42,103.40 559.54,101.32 559.66,101.02 559.78,100.92 559.90,99.60 560.02,104.98 560.14,100.86 560.26,100.28 560.38,102.24 560.50,95.32 560.62,100.80 560.74,101.04 560.86,99.33 560.98,101.77 561.10,97.36 561.22,100.68 561.34,102.16 561.46,96.91 561.58,98.43 561.70,100.79 561.82,101.25 561.94,100.10 562.06,102.17 562.18,101.85 562.30,98.99 562.42,101.48 562.54,99.20 562.66,97.65 562.78,97.05 562.90,103.05 563.02,101.23 563.14,104.95 563.26,98.96 563.38,101.05 563.50,102.31 563.62,101.20 563.74,102.02 563.86,101.05 563.98,99.87 564.10,96.65 564.22,98.97 564.34,104.00 564.46,102.60 564.58,103.47 564.70,100.00 564.82,98.21 564.94,99.17 565.06,101.55 565.18,100.49 565.30,100.84 565.42,103.38 565.54,98.99 565.66,102.11 565.78,98.55 565.90,103.12 566.02,100.00 566.14,100.48 566.26,100.72 566.38,103.72 566.50,100.56 566.62,99.60 566.74,98.72 566.86,101.25 566.98,99.53 567.10,100.28 567.22,101.24 567.34,102.32 567.46,99.46 567.58,101.64 567.70,103.59 567.82,102.87 567.94,103.31 568.06,104.31 568.18,99.25 568.30,101.64 568.42,98.11 568.54,100.84 568.66,99.42 568.78,100.39 568.90,98.09 569.02,97.96 569.14,98.52 569.26,98.26 569.38,98.36 569.50,98.96 569.62,97.32 569.74,98.80 569.86,99.97 569.98,97.14 570.10,98.81 570.22,97.04 570.34,95.51 570.46,94.17 570.58,93.19 570.70,91.95 570.82,91.45 570.94,89.30 571.06,89.53 571.18,87.10 571.30,87.14 571.42,87.99 571.54,84.32 571.66,87.85 571.78,89.37 571.90,85.06 572.02,86.50 572.14,85.50 572.26,85.52 572.38,85.16 572.50,84.87 572.62,86.60 572.74,86.48 572.86,85.08 572.98,87.18 573.10,86.21 573.22,85.35 573.34,83.11 573.46,87.08 573.58,86.08 573.70,80.62 573.82,82.11 573.94,82.93 574.06,85.13 574.18,85.70 574.30,82.87 574.42,83.80 574.54,84.65 574.66,81.11 574.78,84.10 574.90,82.56 575.02,83.41 575.14,82.95 575.26,80.93 575.38,81.12 575.50,83.00 575.62,83.08 575.74,82.35 575.86,84.69 575.98,82.00 576.10,80.57 576.22,82.37 576.34,82.62 576.46,82.84 576.58,85.32 576.70,84.13 576.82,85.24 576.94,84.30 577.06,82.79 577.18,84.91 577.30,82.30 577.42,83.15 577.54,80.90 577.66,82.99 577.78,82.35 577.90,83.34 578.02,85.54 578.14,86.48 578.26,83.83 578.38,82.00 578.50,83.66 578.62,82.45 578.74,81.09 578.86,82.29 578.98,81.95 579.10,81.53 579.22,85.07 579.34,81.64 579.46,81.69 579.58,83.52 579.70,81.23 579.82,80.58 579.94,81.41 580.06,83.97 580.18,83.78 580.30,83.51 580.42,82.38 580.54,81.61 580.66,84.55 580.78,80.61 580.90,82.99 581.02,81.06 581.14,82.52 581.26,83.00 581.38,85.41 581.50,78.31 581.62,85.66 581.74,81.49 581.86,83.67 581.98,84.48 582.10,81.82 582.22,82.95 582.34,84.16 582.46,83.02 582.58,81.65 582.70,83.39 582.82,83.23 582.94,80.53 583.06,85.35 583.18,83.80 583.30,78.90 583.42,81.74 583.54,86.05 583.66,85.61 583.78,83.51 583.90,79.88 584.02,82.38 584.14,84.42 584.26,83.49 584.38,82.52 584.50,81.57 584.62,84.13 584.74,82.32 584.86,83.18 584.98,83.32 585.10,85.41 585.22,82.88 585.34,83.31 585.46,79.94 585.58,85.02 585.70,84.57 585.82,83.11 585.94,79.35 586.06,81.97 586.18,82.76 586.30,86.32 586.42,83.53 586.54,83.68 586.66,84.17 586.78,84.85 586.90,80.55 587.02,80.90 587.14,80.22 587.26,81.58 587.38,81.50 587.50,82.14 587.62,80.76 587.74,80.66 587.86,79.01 587.98,80.17 588.10,77.21 588.22,78.46 588.34,76.79 588.46,73.58 588.58,74.12 588.70,72.72 588.82,70.10 588.94,70.54 589.06,69.39 589.18,69.67 589.30,68.02 589.42,69.19 589.54,69.68 589.66,68.32 589.78,67.45 589.90,67.89 590.02,66.53 590.14,68.60 590.26,63.97 590.38,70.24 590.50,67.90 590.62,68.69 590.74,69.25 590.86,65.96 590.98,71.75 591.10,66.13 591.22,68.45 591.34,68.53 591.46,70.10 591.58,67.98 591.70,66.06 591.82,65.59 591.94,63.78 592.06,67.36 592.18,66.87 592.30,70.62 592.42,67.16 592.54,67.21 592.66,66.51 592.78,65.94 592.90,66.54 593.02,68.39 593.14,64.89 593.26,67.00 593.38,64.56 593.50,66.61 593.62,67.37 593.74,64.86 593.86,65.84 593.98,67.23 594.10,68.34 594.22,68.45 594.34,66.45 594.46,64.50 594.58,63.46 594.70,67.51 594.82,68.59 594.94,66.67 595.06,68.50 595.18,61.11 595.30,65.45 595.42,68.86 595.54,64.51 595.66,67.56 595.78,66.78 595.90,66.40 596.02,69.46 596.14,64.75 596.26,65.74 596.38,62.76 596.50,64.50 596.62,65.47 596.74,65.66 596.86,66.10 596.98,66.95 597.10,64.74 597.22,62.25 597.34,65.65 597.46,66.02 597.58,63.38 597.70,63.71 597.82,68.05 597.94,66.58 598.06,66.68 598.18,66.14 598.30,65.32 598.42,64.04 598.54,65.98 598.66,64.73 598.78,64.39 598.90,65.21 599.02,65.29 599.14,67.08 599.26,63.79 599.38,69.90 599.50,63.86 599.62,64.91 599.74,67.55 599.86,64.48 599.98,64.92 600.10,65.90 600.22,60.73 600.34,65.09 600.46,64.18 600.58,65.44 600.70,66.83 600.82,67.07 600.94,68.64 601.06,68.38 601.18,67.58 601.30,65.63 601.42,67.26 601.54,63.31 601.66,64.90 601.78,67.66 601.90,66.59 602.02,62.56 602.14,63.76 602.26,66.07 602.38,65.68 602.50,66.36 602.62,61.17 602.74,62.20 602.86,64.27 602.98,62.91 603.10,64.84 603.22,65.13 603.34,65.70 603.46,64.81 603.58,65.57 603.70,64.80 603.82,63.38 603.94,61.55 604.06,63.01 604.18,56.22 604.30,60.76 604.42,59.81 604.54,57.34 604.66,58.35 604.78,56.59 604.90,55.23 605.02,57.18 605.14,55.30 605.26,56.06 605.38,56.79 605.50,57.52 605.62,52.25 605.74,53.74 605.86,56.08 605.98,53.99 606.10,49.61 606.22,55.04 606.34,55.09 606.46,55.93 606.58,54.80 606.70,53.48 606.82,54.53 606.94,53.89 607.06,53.08 607.18,54.08 607.30,54.23 607.42,52.01 607.54,55.09 607.66,54.80 607.78,54.53 607.90,48.78 608.02,53.39 608.14,52.83 608.26,51.35 608.38,54.41 608.50,50.97 608.62,55.83 608.74,54.41 608.86,52.69 608.98,56.25 609.10,54.73 609.22,54.40 609.34,51.50 609.46,54.68 609.58,56.13 609.70,55.42 609.82,50.88 609.94,55.77 610.06,56.31 610.18,54.51 610.30,52.18 610.42,50.06 610.54,51.25 610.66,52.21 610.78,53.78 610.90,54.08 611.02,51.70 611.14,50.08 611.26,52.09 611.38,50.50 611.50,55.20 611.62,50.65 611.74,53.51 611.86,53.99 611.98,51.03 612.10,54.47 612.22,52.24 612.34,50.85 612.46,50.20 612.58,51.92 612.70,53.65 612.82,48.32 612.94,52.91 613.06,51.54 613.18,50.29 613.30,51.49 613.42,51.97 613.54,52.04 613.66,53.33 613.78,50.20 613.90,55.17 614.02,53.46 614.14,50.62 614.26,48.22 614.38,51.61 614.50,50.80 614.62,52.90 614.74,52.64 614.86,54.88 614.98,51.55 615.10,53.19 615.22,50.75 615.34,50.82 615.46,54.44 615.58,51.51 615.70,51.46 615.82,51.08 615.94,52.63 616.06,53.24 616.18,52.06 616.30,50.67 616.42,53.25 616.54,51.07 616.66,51.63 616.78,52.54 616.90,52.73 617.02,48.06 617.14,55.33 617.26,53.50 617.38,55.49 617.50,56.60 617.62,50.36 617.74,50.89 617.86,52.28 617.98,53.40 618.10,50.59" fill="none" stroke="#000" stroke-width="0.45" stroke-linejoin="round"/>
<path d="M530.3,72 L530.5,63.5 L530.8,74 M551.4,127 L551.7,135.5 L552.0,127 M617.4,50 L617.6,40.5 L617.8,50 M585.7,83 L585.9,94 L586.1,83" stroke="#222" stroke-width="0.6" fill="none"/>
<text font-size="200" fill="#333" stroke="#333" stroke-width="3.0" transform="matrix(0.1320 0 0 0.1246 24.084 227.200)"><tspan font-weight="bold">B</tspan></text>
<text font-size="200" fill="#1a1a1a" stroke="#1a1a1a" stroke-width="3.0" transform="matrix(0.0857 0 0 0.0857 95.486 248.729)"><tspan>sPKI</tspan></text>
<text font-size="200" fill="#1a1a1a" stroke="#1a1a1a" stroke-width="3.0" transform="matrix(0.0864 0 0 0.0836 161.881 249.133)"><tspan>sPKI</tspan></text>
<text font-size="200" fill="#333" stroke="#333" stroke-width="3.0" transform="matrix(0.0867 0 0 0.0993 70.812 269.401)"><tspan>NC</tspan></text>
<text font-size="200" fill="#333" stroke="#333" stroke-width="3.0" transform="matrix(0.0867 0 0 0.0993 102.212 269.401)"><tspan>NC</tspan></text>
<text font-size="200" fill="#333" stroke="#333" stroke-width="3.0" transform="matrix(0.0875 0 0 0.0973 134.112 270.112)"><tspan>cap</tspan></text>
<text font-size="200" fill="#333" stroke="#333" stroke-width="3.0" transform="matrix(0.0862 0 0 0.0973 167.224 270.112)"><tspan>cap</tspan></text>
<line x1="63.6" y1="278.55" x2="63.6" y2="435.05" stroke="#2b2b2b" stroke-width="2"/>
<line x1="56.4" y1="279.30" x2="63.6" y2="279.30" stroke="#2b2b2b" stroke-width="1.5"/>
<line x1="59.3" y1="298.68" x2="63.6" y2="298.68" stroke="#2b2b2b" stroke-width="1.5"/>
<line x1="56.4" y1="318.05" x2="63.6" y2="318.05" stroke="#2b2b2b" stroke-width="1.5"/>
<line x1="59.3" y1="337.43" x2="63.6" y2="337.43" stroke="#2b2b2b" stroke-width="1.5"/>
<line x1="56.4" y1="356.80" x2="63.6" y2="356.80" stroke="#2b2b2b" stroke-width="1.5"/>
<line x1="59.3" y1="376.18" x2="63.6" y2="376.18" stroke="#2b2b2b" stroke-width="1.5"/>
<line x1="56.4" y1="395.55" x2="63.6" y2="395.55" stroke="#2b2b2b" stroke-width="1.5"/>
<line x1="59.3" y1="414.93" x2="63.6" y2="414.93" stroke="#2b2b2b" stroke-width="1.5"/>
<line x1="56.4" y1="434.30" x2="63.6" y2="434.30" stroke="#2b2b2b" stroke-width="1.5"/>
<text font-size="200" fill="#333" stroke="#333" stroke-width="3.0" transform="matrix(0.0674 0 0 0.0732 41.361 285.154)"><tspan>0</tspan></text>
<text font-size="200" fill="#333" stroke="#333" stroke-width="3.0" transform="matrix(0.0654 0 0 0.0732 32.111 323.904)"><tspan>-20</tspan></text>
<text font-size="200" fill="#333" stroke="#333" stroke-width="3.0" transform="matrix(0.0654 0 0 0.0732 32.611 362.654)"><tspan>-40</tspan></text>
<text font-size="200" fill="#333" stroke="#333" stroke-width="3.0" transform="matrix(0.0654 0 0 0.0732 32.611 401.404)"><tspan>-60</tspan></text>
<text font-size="200" fill="#333" stroke="#333" stroke-width="3.0" transform="matrix(0.0654 0 0 0.0732 32.611 440.154)"><tspan>-80</tspan></text>
<text font-size="200" fill="#333" stroke="#333" stroke-width="3.0" transform="matrix(0 -0.0824 0.0759 0 24.811 369.618)"><tspan>Em (mV)</tspan></text>
<rect x="78.60" y="278.70" width="10.60" height="52.30" fill="#c3c9dc" stroke="#444" stroke-width="1.4"/><line x1="83.90" y1="331.00" x2="83.90" y2="342.70" stroke="#2a2a2a" stroke-width="1.4"/><line x1="78.10" y1="342.70" x2="89.70" y2="342.70" stroke="#2a2a2a" stroke-width="1.8"/>
<rect x="109.70" y="278.70" width="10.60" height="58.20" fill="#c3c9dc" stroke="#444" stroke-width="1.4"/><line x1="115.00" y1="336.90" x2="115.00" y2="345.50" stroke="#2a2a2a" stroke-width="1.4"/><line x1="109.20" y1="345.50" x2="120.80" y2="345.50" stroke="#2a2a2a" stroke-width="1.8"/>
<rect x="141.30" y="278.70" width="10.60" height="107.80" fill="#fff" stroke="#444" stroke-width="1.4"/><line x1="146.60" y1="386.50" x2="146.60" y2="399.80" stroke="#2a2a2a" stroke-width="1.4"/><line x1="140.80" y1="399.80" x2="152.40" y2="399.80" stroke="#2a2a2a" stroke-width="1.8"/>
<rect x="172.70" y="278.70" width="10.60" height="104.50" fill="#fff" stroke="#444" stroke-width="1.4"/><line x1="178.00" y1="383.20" x2="178.00" y2="399.00" stroke="#2a2a2a" stroke-width="1.4"/><line x1="172.20" y1="399.00" x2="183.80" y2="399.00" stroke="#2a2a2a" stroke-width="1.8"/>
<circle cx="84.10" cy="316.80" r="3.40" fill="#e5e21c"/><circle cx="78.50" cy="321.60" r="3.40" fill="#1b2733"/><circle cx="89.40" cy="326.90" r="3.40" fill="#f7923a"/><circle cx="78.50" cy="328.80" r="3.40" fill="#1cb0e0"/><circle cx="78.50" cy="334.90" r="3.40" fill="#1a3598"/><circle cx="89.40" cy="334.30" r="3.40" fill="#4fdc3a"/><circle cx="84.00" cy="348.00" r="3.40" fill="#e8153a"/>
<circle cx="120.50" cy="330.10" r="3.40" fill="#1a3598"/><circle cx="110.10" cy="332.60" r="3.40" fill="#f7923a"/><circle cx="115.10" cy="336.90" r="3.40" fill="#e5e21c"/><circle cx="109.80" cy="341.20" r="3.40" fill="#1b2733"/><circle cx="115.10" cy="349.00" r="3.40" fill="#e8153a"/>
<circle cx="146.80" cy="369.10" r="3.40" fill="#1cb0e0"/><circle cx="141.20" cy="380.40" r="3.40" fill="#4fdc3a"/><circle cx="151.90" cy="379.40" r="3.40" fill="#f7923a"/><circle cx="141.00" cy="388.40" r="3.40" fill="#1a3598"/><circle cx="146.50" cy="392.20" r="3.40" fill="#e5e21c"/><circle cx="151.90" cy="391.20" r="3.40" fill="#1b2733"/><circle cx="146.80" cy="408.30" r="3.40" fill="#e8153a"/>
<circle cx="172.70" cy="365.80" r="3.40" fill="#4fdc3a"/><circle cx="183.40" cy="366.50" r="3.40" fill="#1cb0e0"/><circle cx="178.00" cy="376.50" r="3.40" fill="#e5e21c"/><circle cx="172.70" cy="388.70" r="3.40" fill="#f7923a"/><circle cx="183.40" cy="390.40" r="3.40" fill="#1b2733"/><circle cx="178.00" cy="394.10" r="3.40" fill="#e8153a"/><circle cx="178.00" cy="407.90" r="3.40" fill="#1a3598"/>
<text font-size="200" fill="#333" stroke="#333" stroke-width="3.0" transform="matrix(0.0980 0 0 0.1009 79.918 375.198)"><tspan>a</tspan></text>
<text font-size="200" fill="#333" stroke="#333" stroke-width="3.0" transform="matrix(0.1020 0 0 0.0964 110.282 377.507)"><tspan>a</tspan></text>
<text font-size="200" fill="#333" stroke="#333" stroke-width="3.0" transform="matrix(0.1067 0 0 0.0986 142.913 438.403)"><tspan>b</tspan></text>
<text font-size="200" fill="#333" stroke="#333" stroke-width="3.0" transform="matrix(0.1033 0 0 0.0986 173.557 438.403)"><tspan>b</tspan></text>
<text font-size="200" fill="#333" stroke="#333" stroke-width="3.0" transform="matrix(0.1176 0 0 0.1239 236.960 226.952)"><tspan font-weight="bold">C</tspan></text>
<text font-size="200" fill="#333" stroke="#333" stroke-width="3.0" transform="matrix(0.0879 0 0 0.1049 280.994 217.390)"><tspan>NC</tspan></text>
<text font-size="200" fill="#333" stroke="#333" stroke-width="3.0" transform="matrix(0.0859 0 0 0.0853 323.627 214.316)"><tspan>cap</tspan></text>
<line x1="281.2" y1="221.5" x2="305.6" y2="221.5" stroke="#2b2b2b" stroke-width="2"/>
<line x1="314.1" y1="221.3" x2="362.1" y2="221.3" stroke="#2b2b2b" stroke-width="2"/>
<rect x="289.8" y="232.3" width="9.3" height="2.6" fill="#111"/>
<rect x="346.0" y="232.2" width="8.5" height="2.6" fill="#111"/>
<rect x="316.8" y="232.0" width="9.9" height="2.4" fill="#111"/><rect x="320.6" y="228.6" width="2.4" height="9.3" fill="#111"/>
<text font-size="200" fill="#333" stroke="#333" stroke-width="3.0" transform="matrix(0.0864 0 0 0.1071 367.381 236.086)"><tspan>sPKI</tspan></text>
<text font-size="200" fill="#333" stroke="#333" stroke-width="3.0" transform="matrix(0 -0.0851 0.1094 0 263.403 364.706)"><tspan>pPKAs</tspan></text>
<text font-size="200" fill="#333" stroke="#333" stroke-width="3.0" transform="matrix(0 -0.0843 0.0973 0 267.305 478.353)"><tspan>tub</tspan></text>
<rect x="367.6" y="272.60" width="8.7" height="2.4" fill="#111"/>
<text font-size="200" fill="#333" stroke="#333" stroke-width="3.0" transform="matrix(0.0897 0 0 0.1007 379.555 276.899)"><tspan>150</tspan></text>
<rect x="367.6" y="296.60" width="8.7" height="2.4" fill="#111"/>
<text font-size="200" fill="#333" stroke="#333" stroke-width="3.0" transform="matrix(0.0897 0 0 0.0958 379.555 304.708)"><tspan>100</tspan></text>
<rect x="367.6" y="318.40" width="8.7" height="2.4" fill="#111"/>
<text font-size="200" fill="#333" stroke="#333" stroke-width="3.0" transform="matrix(0.0897 0 0 0.0993 379.703 333.301)"><tspan>75</tspan></text>
<rect x="367.6" y="370.10" width="8.7" height="2.4" fill="#111"/>
<text font-size="200" fill="#333" stroke="#333" stroke-width="3.0" transform="matrix(0.0888 0 0 0.1007 379.889 376.899)"><tspan>50</tspan></text>
<rect x="367.6" y="419.20" width="8.7" height="2.4" fill="#111"/>
<text font-size="200" fill="#333" stroke="#333" stroke-width="3.0" transform="matrix(0.0848 0 0 0.0979 379.922 424.304)"><tspan>37</tspan></text>
<rect x="276.5" y="243.7" width="84.7" height="190.1" fill="#d3d3d3"/>
<rect x="276.5" y="243.7" width="1.0" height="190.1" fill="#dedede"/>
<rect x="277.8" y="450.8" width="83.6" height="26.9" fill="#d2d2d2"/>
<g filter="url(#bb)">
<rect x="285.5" y="248.8" width="18.5" height="3.4" rx="3.2" ry="1.7" fill="#b0b0b0"/>
<rect x="282.7" y="269.2" width="22.2" height="5.2" rx="4.1" ry="2.6" fill="#141414"/>
<rect x="282.0" y="338.4" width="20.5" height="3.2" rx="3.1" ry="1.6" fill="#a0a0a0"/>
<rect x="279.4" y="360.8" width="22.3" height="4.0" rx="3.5" ry="2.0" fill="#1e1e1e"/>
<rect x="289.0" y="289.5" width="3.0" height="2.4" rx="1.5" ry="1.2" fill="#b0b0b0"/>
<rect x="311.6" y="249.0" width="19.0" height="3.0" rx="3.0" ry="1.5" fill="#c0c0c0"/>
<rect x="311.6" y="270.2" width="20.2" height="3.3" rx="3.1" ry="1.6" fill="#222"/>
<rect x="312.0" y="284.5" width="4.0" height="2.4" rx="2.0" ry="1.2" fill="#a0a0a0"/>
<rect x="327.5" y="284.5" width="4.0" height="2.4" rx="2.0" ry="1.2" fill="#a0a0a0"/>
<rect x="313.0" y="361.5" width="15.0" height="2.4" rx="2.7" ry="1.2" fill="#bcbcbc"/>
<rect x="313.0" y="401.5" width="15.0" height="2.4" rx="2.7" ry="1.2" fill="#b4b4b4"/>
<rect x="314.0" y="411.6" width="15.0" height="2.8" rx="2.9" ry="1.4" fill="#a8a8a8"/>
<rect x="338.3" y="255.0" width="19.3" height="11.0" rx="2.0" ry="2.0" fill="#7c7c7c"/>
<rect x="338.3" y="276.0" width="19.3" height="8.0" rx="2.0" ry="2.0" fill="#8a8a8a"/>
<rect x="338.3" y="286.0" width="19.3" height="19.0" rx="2.0" ry="2.0" fill="#8e8e8e"/>
<rect x="338.3" y="247.0" width="19.3" height="8.0" rx="2.0" ry="2.0" fill="#1c1c1c"/>
<rect x="337.4" y="267.4" width="21.2" height="8.6" rx="2.0" ry="2.0" fill="#0a0a0a"/>
<rect x="338.3" y="283.0" width="19.3" height="3.2" rx="3.1" ry="1.6" fill="#505050"/>
<rect x="338.3" y="305.3" width="19.3" height="9.2" rx="2.0" ry="2.0" fill="#151515"/>
<rect x="338.3" y="314.0" width="19.3" height="12.0" rx="2.0" ry="2.0" fill="#ababab"/>
<rect x="338.3" y="326.0" width="19.3" height="7.0" rx="5.0" ry="3.5" fill="#5a5a5a"/>
<rect x="338.3" y="332.6" width="19.3" height="8.0" rx="2.0" ry="2.0" fill="#1a1a1a"/>
<rect x="338.3" y="341.0" width="19.3" height="16.0" rx="2.0" ry="2.0" fill="#bdbdbd"/>
<rect x="338.3" y="360.6" width="19.3" height="5.0" rx="4.0" ry="2.5" fill="#343434"/>
<rect x="339.0" y="393.5" width="18.0" height="27.0" rx="2.0" ry="2.0" fill="#9c9c9c"/>
<rect x="340.0" y="394.0" width="16.0" height="3.4" rx="3.2" ry="1.7" fill="#5e5e5e"/>
<rect x="339.5" y="400.5" width="17.0" height="5.0" rx="4.0" ry="2.5" fill="#747474"/>
<rect x="340.0" y="411.5" width="16.0" height="6.0" rx="4.5" ry="3.0" fill="#7c7c7c"/>
<rect x="339.0" y="290.0" width="18.0" height="2.0" rx="2.5" ry="1.0" fill="#7a7a7a"/>
<rect x="339.0" y="296.0" width="18.0" height="3.0" rx="3.0" ry="1.5" fill="#6e6e6e"/>
<rect x="339.0" y="300.5" width="18.0" height="4.0" rx="3.5" ry="2.0" fill="#5a5a5a"/>
<rect x="339.0" y="319.5" width="18.0" height="2.0" rx="2.5" ry="1.0" fill="#9a9a9a"/>
<rect x="340.0" y="349.0" width="16.0" height="2.0" rx="2.5" ry="1.0" fill="#aaa"/>
<rect x="339.0" y="278.5" width="18.0" height="2.0" rx="2.5" ry="1.0" fill="#777"/>
<rect x="341.0" y="406.5" width="14.0" height="2.5" rx="2.8" ry="1.2" fill="#6a6a6a"/>
<rect x="341.0" y="416.5" width="14.0" height="2.5" rx="2.8" ry="1.2" fill="#858585"/>
<rect x="280.0" y="456.0" width="20.0" height="5.0" rx="4.0" ry="2.5" fill="#8a8a8a"/>
<rect x="309.5" y="456.0" width="21.0" height="5.0" rx="4.0" ry="2.5" fill="#7a7a7a"/>
<rect x="337.5" y="456.8" width="21.0" height="5.0" rx="4.0" ry="2.5" fill="#888"/>
<rect x="278.3" y="459.2" width="25.4" height="9.4" rx="2.0" ry="2.0" fill="#0a0a0a"/>
<rect x="308.0" y="459.0" width="24.0" height="10.8" rx="2.0" ry="2.0" fill="#030303"/>
<rect x="335.9" y="459.6" width="24.8" height="10.4" rx="2.0" ry="2.0" fill="#050505"/>
</g>
<text font-size="200" fill="#333" stroke="#333" stroke-width="3.0" transform="matrix(0.1301 0 0 0.1232 453.309 227.000)"><tspan font-weight="bold">D</tspan></text>
<text font-size="200" fill="#333" stroke="#333" stroke-width="3.0" transform="matrix(0.0859 0 0 0.1007 503.127 239.099)"><tspan>SLO3 KO</tspan></text>
<text font-size="200" fill="#333" stroke="#333" stroke-width="3.0" transform="matrix(0.0824 0 0 0.1065 630.918 239.300)"><tspan>WT</tspan></text>
<line x1="499" y1="246.5" x2="582.6" y2="246.5" stroke="#2b2b2b" stroke-width="2"/>
<line x1="601.5" y1="246.6" x2="684.9" y2="246.6" stroke="#2b2b2b" stroke-width="2"/>
<text font-size="200" fill="#111" stroke="#111" stroke-width="3.0" transform="matrix(0.0774 0 0 0.0814 523.836 267.037)"><tspan>sPKI</tspan></text>
<text font-size="200" fill="#111" stroke="#111" stroke-width="3.0" transform="matrix(0.0711 0 0 0.0771 627.173 266.946)"><tspan>sPKI</tspan></text>
<text font-size="200" fill="#333" stroke="#333" stroke-width="3.0" transform="matrix(0.0788 0 0 0.0789 496.739 284.042)"><tspan>NC</tspan></text>
<text font-size="200" fill="#333" stroke="#333" stroke-width="3.0" transform="matrix(0.0754 0 0 0.0867 527.321 283.760)"><tspan>cap</tspan></text>
<text font-size="200" fill="#333" stroke="#333" stroke-width="3.0" transform="matrix(0.0774 0 0 0.0867 558.004 283.760)"><tspan>cap</tspan></text>
<text font-size="200" fill="#333" stroke="#333" stroke-width="3.0" transform="matrix(0.0689 0 0 0.0754 597.797 283.949)"><tspan>NC</tspan></text>
<text font-size="200" fill="#333" stroke="#333" stroke-width="3.0" transform="matrix(0.0711 0 0 0.0847 628.660 284.044)"><tspan>cap</tspan></text>
<text font-size="200" fill="#333" stroke="#333" stroke-width="3.0" transform="matrix(0.0757 0 0 0.0847 659.318 284.044)"><tspan>cap</tspan></text>
<line x1="487.6" y1="292.45" x2="487.6" y2="433.15" stroke="#2b2b2b" stroke-width="1.9"/>
<line x1="479.9" y1="293.20" x2="487.6" y2="293.20" stroke="#2b2b2b" stroke-width="1.5"/>
<line x1="483.3" y1="316.40" x2="487.6" y2="316.40" stroke="#2b2b2b" stroke-width="1.5"/>
<line x1="479.9" y1="339.60" x2="487.6" y2="339.60" stroke="#2b2b2b" stroke-width="1.5"/>
<line x1="483.3" y1="362.80" x2="487.6" y2="362.80" stroke="#2b2b2b" stroke-width="1.5"/>
<line x1="479.9" y1="386.00" x2="487.6" y2="386.00" stroke="#2b2b2b" stroke-width="1.5"/>
<line x1="483.3" y1="409.20" x2="487.6" y2="409.20" stroke="#2b2b2b" stroke-width="1.5"/>
<line x1="479.9" y1="432.40" x2="487.6" y2="432.40" stroke="#2b2b2b" stroke-width="1.5"/>
<text font-size="200" fill="#333" stroke="#333" stroke-width="3.0" transform="matrix(0.0695 0 0 0.0725 465.544 299.005)"><tspan>0</tspan></text>
<text font-size="200" fill="#333" stroke="#333" stroke-width="3.0" transform="matrix(0.0713 0 0 0.0725 456.258 345.405)"><tspan>-20</tspan></text>
<text font-size="200" fill="#333" stroke="#333" stroke-width="3.0" transform="matrix(0.0706 0 0 0.0725 456.265 391.805)"><tspan>-40</tspan></text>
<text font-size="200" fill="#333" stroke="#333" stroke-width="3.0" transform="matrix(0.0706 0 0 0.0725 456.265 438.205)"><tspan>-60</tspan></text>
<text font-size="200" fill="#333" stroke="#333" stroke-width="3.0" transform="matrix(0 -0.0819 0.0701 0 447.558 382.592)"><tspan font-style="italic">Em</tspan><tspan> (mV)</tspan></text>
<rect x="502.60" y="293.40" width="10.80" height="42.10" fill="#c3c9dc" stroke="#444" stroke-width="1.4"/><line x1="508.00" y1="335.50" x2="508.00" y2="341.90" stroke="#2a2a2a" stroke-width="1.4"/><line x1="502.10" y1="341.90" x2="513.90" y2="341.90" stroke="#2a2a2a" stroke-width="1.8"/>
<rect x="533.90" y="293.40" width="10.80" height="38.00" fill="#c3c9dc" stroke="#444" stroke-width="1.4"/><line x1="539.30" y1="331.40" x2="539.30" y2="341.90" stroke="#2a2a2a" stroke-width="1.4"/><line x1="533.40" y1="341.90" x2="545.20" y2="341.90" stroke="#2a2a2a" stroke-width="1.8"/>
<rect x="565.70" y="293.40" width="10.40" height="38.00" fill="#c3c9dc" stroke="#444" stroke-width="1.4"/><line x1="570.90" y1="331.40" x2="570.90" y2="341.40" stroke="#2a2a2a" stroke-width="1.4"/><line x1="565.20" y1="341.40" x2="576.60" y2="341.40" stroke="#2a2a2a" stroke-width="1.8"/>
<rect x="602.70" y="293.40" width="10.40" height="64.10" fill="#fff" stroke="#444" stroke-width="1.4"/><line x1="607.90" y1="357.50" x2="607.90" y2="361.70" stroke="#2a2a2a" stroke-width="1.4"/><line x1="602.20" y1="361.70" x2="613.60" y2="361.70" stroke="#2a2a2a" stroke-width="1.8"/>
<rect x="634.20" y="293.40" width="10.60" height="99.00" fill="#fff" stroke="#444" stroke-width="1.4"/><line x1="639.50" y1="392.40" x2="639.50" y2="405.30" stroke="#2a2a2a" stroke-width="1.4"/><line x1="633.70" y1="405.30" x2="645.30" y2="405.30" stroke="#2a2a2a" stroke-width="1.8"/>
<rect x="665.50" y="293.40" width="11.00" height="96.30" fill="#fff" stroke="#444" stroke-width="1.4"/><line x1="671.00" y1="389.70" x2="671.00" y2="399.90" stroke="#2a2a2a" stroke-width="1.4"/><line x1="665.00" y1="399.90" x2="677.00" y2="399.90" stroke="#2a2a2a" stroke-width="1.8"/>
<circle cx="507.70" cy="325.30" r="3.00" fill="#1a3598"/><circle cx="503.10" cy="334.50" r="3.00" fill="#e8153a"/><circle cx="512.70" cy="334.50" r="3.00" fill="#4fdc3a"/><circle cx="507.70" cy="344.30" r="3.00" fill="#f7923a"/>
<circle cx="534.00" cy="324.00" r="3.00" fill="#e8153a"/><circle cx="544.00" cy="324.00" r="3.00" fill="#4fdc3a"/><circle cx="539.00" cy="330.30" r="3.00" fill="#1a3598"/><circle cx="539.00" cy="346.10" r="3.00" fill="#f7923a"/>
<circle cx="570.90" cy="314.30" r="3.00" fill="#4fdc3a"/><circle cx="570.90" cy="321.70" r="3.00" fill="#1a3598"/><circle cx="570.90" cy="335.80" r="3.00" fill="#f7923a"/><circle cx="570.90" cy="341.90" r="3.00" fill="#e8153a"/>
<circle cx="602.70" cy="352.50" r="3.00" fill="#4fdc3a"/><circle cx="614.10" cy="354.10" r="3.00" fill="#1a3598"/><circle cx="608.00" cy="356.60" r="3.00" fill="#f7923a"/><circle cx="608.00" cy="363.70" r="3.00" fill="#e8153a"/>
<circle cx="639.70" cy="376.60" r="3.00" fill="#e8153a"/><circle cx="634.00" cy="395.00" r="3.00" fill="#1a3598"/><circle cx="644.80" cy="391.30" r="3.00" fill="#4fdc3a"/><circle cx="639.70" cy="407.30" r="3.00" fill="#f7923a"/>
<circle cx="665.30" cy="381.50" r="3.00" fill="#1a3598"/><circle cx="676.30" cy="380.70" r="3.00" fill="#e8153a"/><circle cx="671.40" cy="394.40" r="3.00" fill="#4fdc3a"/><circle cx="671.40" cy="403.20" r="3.00" fill="#f7923a"/>
<path d="M608.9,378.7 V423.6 H654.7 V416.4 M634.3,416.4 H677.1" fill="none" stroke="#111" stroke-width="1.5"/>
<text font-size="200" fill="#333" stroke="#333" stroke-width="3.0" transform="matrix(0.0957 0 0 0.0814 630.017 440.537)"><tspan>*</tspan></text>
</svg>
</body></html>
